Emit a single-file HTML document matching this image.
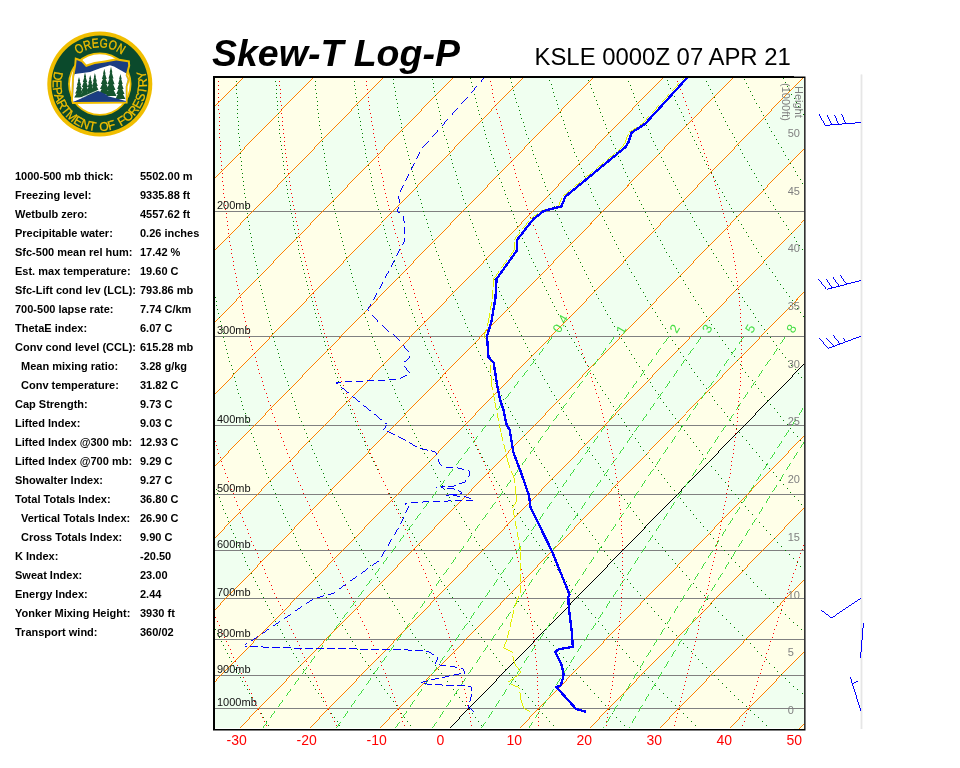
<!DOCTYPE html>
<html><head><meta charset="utf-8"><title>Skew-T Log-P KSLE</title>
<style>html,body{margin:0;padding:0;background:#fff}body{width:960px;height:768px;position:relative;overflow:hidden}</style></head>
<body>
<svg width="960" height="768" viewBox="0 0 960 768" style="position:absolute;left:0;top:0;will-change:transform" font-family="'Liberation Sans',Arial,sans-serif">
<defs><clipPath id="cc"><rect x="215" y="78" width="589" height="651"/></clipPath></defs>
<g clip-path="url(#cc)" shape-rendering="crispEdges">
<rect x="215" y="78" width="589" height="651" fill="#FFFFE8"/>
<polygon points="-531.7,729 -461.7,729 172.2,78 102.2,78" fill="#F0FFF0"/>
<polygon points="-391.7,729 -321.7,729 312.2,78 242.2,78" fill="#F0FFF0"/>
<polygon points="-251.7,729 -181.7,729 452.2,78 382.2,78" fill="#F0FFF0"/>
<polygon points="-111.7,729 -41.7,729 592.2,78 522.2,78" fill="#F0FFF0"/>
<polygon points="28.3,729 98.3,729 732.2,78 662.2,78" fill="#F0FFF0"/>
<polygon points="168.3,729 238.3,729 872.2,78 802.2,78" fill="#F0FFF0"/>
<polygon points="308.3,729 378.3,729 1012.2,78 942.2,78" fill="#F0FFF0"/>
<polygon points="448.3,729 518.3,729 1152.2,78 1082.2,78" fill="#F0FFF0"/>
<polygon points="588.3,729 658.3,729 1292.2,78 1222.2,78" fill="#F0FFF0"/>
<polygon points="728.3,729 798.3,729 1432.2,78 1362.2,78" fill="#F0FFF0"/>
<polygon points="868.3,729 938.3,729 1572.2,78 1502.2,78" fill="#F0FFF0"/>
<line x1="215" y1="211.5" x2="804" y2="211.5" stroke="#808080" stroke-width="1"/>
<line x1="215" y1="336.5" x2="804" y2="336.5" stroke="#808080" stroke-width="1"/>
<line x1="215" y1="425.5" x2="804" y2="425.5" stroke="#808080" stroke-width="1"/>
<line x1="215" y1="494.5" x2="804" y2="494.5" stroke="#808080" stroke-width="1"/>
<line x1="215" y1="550.5" x2="804" y2="550.5" stroke="#808080" stroke-width="1"/>
<line x1="215" y1="598.5" x2="804" y2="598.5" stroke="#808080" stroke-width="1"/>
<line x1="215" y1="639.5" x2="804" y2="639.5" stroke="#808080" stroke-width="1"/>
<line x1="215" y1="675.5" x2="804" y2="675.5" stroke="#808080" stroke-width="1"/>
<line x1="215" y1="708.5" x2="804" y2="708.5" stroke="#808080" stroke-width="1"/>
<path d="M-532.67 730L103.16 77h1L-531.67 730z" fill="#FF8000"/>
<path d="M-462.67 730L173.16 77h1L-461.67 730z" fill="#FF8000"/>
<path d="M-392.67 730L243.16 77h1L-391.67 730z" fill="#FF8000"/>
<path d="M-322.67 730L313.16 77h1L-321.67 730z" fill="#FF8000"/>
<path d="M-252.67 730L383.16 77h1L-251.67 730z" fill="#FF8000"/>
<path d="M-182.67 730L453.16 77h1L-181.67 730z" fill="#FF8000"/>
<path d="M-112.67 730L523.16 77h1L-111.67 730z" fill="#FF8000"/>
<path d="M-42.67 730L593.16 77h1L-41.67 730z" fill="#FF8000"/>
<path d="M27.33 730L663.16 77h1L28.33 730z" fill="#FF8000"/>
<path d="M97.33 730L733.16 77h1L98.33 730z" fill="#FF8000"/>
<path d="M167.33 730L803.16 77h1L168.33 730z" fill="#FF8000"/>
<path d="M237.33 730L873.16 77h1L238.33 730z" fill="#FF8000"/>
<path d="M307.33 730L943.16 77h1L308.33 730z" fill="#FF8000"/>
<path d="M377.33 730L1013.16 77h1L378.33 730z" fill="#FF8000"/>
<path d="M447.33 730L1083.16 77h1L448.33 730z" fill="#000"/>
<path d="M517.33 730L1153.16 77h1L518.33 730z" fill="#FF8000"/>
<path d="M587.33 730L1223.16 77h1L588.33 730z" fill="#FF8000"/>
<path d="M657.33 730L1293.16 77h1L658.33 730z" fill="#FF8000"/>
<path d="M727.33 730L1363.16 77h1L728.33 730z" fill="#FF8000"/>
<path d="M797.33 730L1433.16 77h1L798.33 730z" fill="#FF8000"/>
<path d="M867.33 730L1503.16 77h1L868.33 730z" fill="#FF8000"/>
<path d="M271 728.5h1M268 725.5h1M266 721.5h1M263 717.5h1M261 713.5h1M258 709.5h1M256 705.5h1M254 701.5h1M251 697.5h1M249 693.5h1M247 689.5h1M244 685.5h1M242 681.5h1M240 677.5h1M238 673.5h1M235 669.5h1M233 665.5h1M231 661.5h1M229 657.5h1M227 653.5h1M225 649.5h1M223 645.5h1M221 641.5h1M219 637.5h1M217 633.5h1M215 629.5h1" stroke="#008000" stroke-width="1" fill="none"/>
<path d="M342 728.5h1M339 725.5h1M337 721.5h1M334 717.5h1M331 713.5h1M328 709.5h1M326 705.5h1M323 701.5h1M321 697.5h1M318 693.5h1M315 689.5h1M313 685.5h1M310 681.5h1M308 677.5h1M305 673.5h1M303 669.5h1M300 665.5h1M298 661.5h1M296 657.5h1M293 653.5h1M291 649.5h1M289 645.5h1M286 641.5h1M284 637.5h1M282 633.5h1M280 629.5h1M277 625.5h1M275 621.5h1M273 617.5h1M271 613.5h1M269 609.5h1M267 605.5h1M265 601.5h1M263 597.5h1M261 593.5h1M259 589.5h1M257 585.5h1M255 581.5h1M253 577.5h1M251 573.5h1M249 569.5h1M247 565.5h1M245 561.5h1M244 557.5h1M242 553.5h1M240 549.5h1M238 545.5h1M236 541.5h1M235 537.5h1M233 533.5h1M231 529.5h1M230 525.5h1M228 521.5h1M227 517.5h1M225 513.5h1M223 509.5h1M222 505.5h1M220 501.5h1M219 497.5h1M217 493.5h1M216 489.5h1M214 485.5h1" stroke="#008000" stroke-width="1" fill="none"/>
<path d="M413 728.5h1M410 725.5h1M407 721.5h1M404 717.5h1M401 713.5h1M398 709.5h1M396 705.5h1M393 701.5h1M390 697.5h1M387 693.5h1M384 689.5h1M381 685.5h1M379 681.5h1M376 677.5h1M373 673.5h1M370 669.5h1M368 665.5h1M365 661.5h1M362 657.5h1M360 653.5h1M357 649.5h1M355 645.5h1M352 641.5h1M350 637.5h1M347 633.5h1M345 629.5h1M342 625.5h1M340 621.5h1M337 617.5h1M335 613.5h1M333 609.5h1M330 605.5h1M328 601.5h1M326 597.5h1M324 593.5h1M321 589.5h1M319 585.5h1M317 581.5h1M315 577.5h1M313 573.5h1M311 569.5h1M309 565.5h1M306 561.5h1M304 557.5h1M302 553.5h1M300 549.5h1M298 545.5h1M296 541.5h1M295 537.5h1M293 533.5h1M291 529.5h1M289 525.5h1M287 521.5h1M285 517.5h1M283 513.5h1M282 509.5h1M280 505.5h1M278 501.5h1M276 497.5h1M275 493.5h1M273 489.5h1M271 485.5h1M270 481.5h1M268 477.5h1M266 473.5h1M265 469.5h1M263 465.5h1M262 461.5h1M260 457.5h1M259 453.5h1M257 449.5h1M256 445.5h1M254 441.5h1M253 437.5h1M251 433.5h1M250 429.5h1M249 425.5h1M247 421.5h1M246 417.5h1M245 413.5h1M243 409.5h1M242 405.5h1M241 401.5h1M240 397.5h1M238 393.5h1M237 389.5h1M236 385.5h1M235 381.5h1M234 377.5h1M233 373.5h1M232 369.5h1M231 365.5h1M229 361.5h1M228 357.5h1M227 353.5h1M226 349.5h1M225 345.5h1M224 341.5h1M223 337.5h1M223 333.5h1M222 329.5h1M221 325.5h1M220 321.5h1M219 317.5h1M218 313.5h1M217 309.5h1M216 305.5h1M216 301.5h1M215 297.5h1M214 293.5h1" stroke="#008000" stroke-width="1" fill="none"/>
<path d="M485 728.5h1M481 725.5h1M478 721.5h1M475 717.5h1M472 713.5h1M469 709.5h1M465 705.5h1M462 701.5h1M459 697.5h1M456 693.5h1M453 689.5h1M450 685.5h1M447 681.5h1M444 677.5h1M441 673.5h1M438 669.5h1M435 665.5h1M432 661.5h1M429 657.5h1M426 653.5h1M424 649.5h1M421 645.5h1M418 641.5h1M415 637.5h1M412 633.5h1M410 629.5h1M407 625.5h1M404 621.5h1M402 617.5h1M399 613.5h1M397 609.5h1M394 605.5h1M392 601.5h1M389 597.5h1M387 593.5h1M384 589.5h1M382 585.5h1M379 581.5h1M377 577.5h1M375 573.5h1M372 569.5h1M370 565.5h1M368 561.5h1M365 557.5h1M363 553.5h1M361 549.5h1M359 545.5h1M356 541.5h1M354 537.5h1M352 533.5h1M350 529.5h1M348 525.5h1M346 521.5h1M344 517.5h1M342 513.5h1M340 509.5h1M338 505.5h1M336 501.5h1M334 497.5h1M332 493.5h1M330 489.5h1M328 485.5h1M326 481.5h1M324 477.5h1M323 473.5h1M321 469.5h1M319 465.5h1M317 461.5h1M316 457.5h1M314 453.5h1M312 449.5h1M311 445.5h1M309 441.5h1M307 437.5h1M306 433.5h1M304 429.5h1M303 425.5h1M301 421.5h1M299 417.5h1M298 413.5h1M296 409.5h1M295 405.5h1M294 401.5h1M292 397.5h1M291 393.5h1M289 389.5h1M288 385.5h1M287 381.5h1M285 377.5h1M284 373.5h1M283 369.5h1M281 365.5h1M280 361.5h1M279 357.5h1M278 353.5h1M277 349.5h1M275 345.5h1M274 341.5h1M273 337.5h1M272 333.5h1M271 329.5h1M270 325.5h1M269 321.5h1M268 317.5h1M267 313.5h1M266 309.5h1M265 305.5h1M264 301.5h1M263 297.5h1M262 293.5h1M261 289.5h1M260 285.5h1M259 281.5h1M258 277.5h1M257 273.5h1M257 269.5h1M256 265.5h1M255 261.5h1M254 257.5h1M253 253.5h1M253 249.5h1M252 245.5h1M251 241.5h1M251 237.5h1M250 233.5h1M249 229.5h1M249 225.5h1M248 221.5h1M247 217.5h1M247 213.5h1M246 209.5h1M246 205.5h1M245 201.5h1M245 197.5h1M244 193.5h1M244 189.5h1M243 185.5h1M243 181.5h1M242 177.5h1M242 173.5h1M241 169.5h1M241 165.5h1M241 161.5h1M240 157.5h1M240 153.5h1M240 149.5h1M239 145.5h1M239 141.5h1M239 137.5h1M238 133.5h1M238 129.5h1M238 125.5h1M238 121.5h1M237 117.5h1M237 113.5h1M237 109.5h1M237 105.5h1M237 101.5h1M237 97.5h1M236 93.5h1M236 89.5h1M236 85.5h1M236 81.5h1" stroke="#008000" stroke-width="1" fill="none"/>
<path d="M556 728.5h1M553 725.5h1M549 721.5h1M546 717.5h1M542 713.5h1M539 709.5h1M535 705.5h1M532 701.5h1M528 697.5h1M525 693.5h1M522 689.5h1M518 685.5h1M515 681.5h1M512 677.5h1M509 673.5h1M505 669.5h1M502 665.5h1M499 661.5h1M496 657.5h1M493 653.5h1M490 649.5h1M487 645.5h1M484 641.5h1M481 637.5h1M478 633.5h1M475 629.5h1M472 625.5h1M469 621.5h1M466 617.5h1M463 613.5h1M460 609.5h1M458 605.5h1M455 601.5h1M452 597.5h1M449 593.5h1M447 589.5h1M444 585.5h1M441 581.5h1M439 577.5h1M436 573.5h1M434 569.5h1M431 565.5h1M429 561.5h1M426 557.5h1M424 553.5h1M421 549.5h1M419 545.5h1M416 541.5h1M414 537.5h1M412 533.5h1M409 529.5h1M407 525.5h1M405 521.5h1M402 517.5h1M400 513.5h1M398 509.5h1M396 505.5h1M394 501.5h1M391 497.5h1M389 493.5h1M387 489.5h1M385 485.5h1M383 481.5h1M381 477.5h1M379 473.5h1M377 469.5h1M375 465.5h1M373 461.5h1M371 457.5h1M369 453.5h1M367 449.5h1M365 445.5h1M364 441.5h1M362 437.5h1M360 433.5h1M358 429.5h1M356 425.5h1M355 421.5h1M353 417.5h1M351 413.5h1M350 409.5h1M348 405.5h1M346 401.5h1M345 397.5h1M343 393.5h1M341 389.5h1M340 385.5h1M338 381.5h1M337 377.5h1M335 373.5h1M334 369.5h1M332 365.5h1M331 361.5h1M330 357.5h1M328 353.5h1M327 349.5h1M325 345.5h1M324 341.5h1M323 337.5h1M321 333.5h1M320 329.5h1M319 325.5h1M318 321.5h1M316 317.5h1M315 313.5h1M314 309.5h1M313 305.5h1M312 301.5h1M311 297.5h1M309 293.5h1M308 289.5h1M307 285.5h1M306 281.5h1M305 277.5h1M304 273.5h1M303 269.5h1M302 265.5h1M301 261.5h1M300 257.5h1M299 253.5h1M298 249.5h1M298 245.5h1M297 241.5h1M296 237.5h1M295 233.5h1M294 229.5h1M293 225.5h1M293 221.5h1M292 217.5h1M291 213.5h1M290 209.5h1M290 205.5h1M289 201.5h1M288 197.5h1M287 193.5h1M287 189.5h1M286 185.5h1M286 181.5h1M285 177.5h1M284 173.5h1M284 169.5h1M283 165.5h1M283 161.5h1M282 157.5h1M282 153.5h1M281 149.5h1M281 145.5h1M280 141.5h1M280 137.5h1M279 133.5h1M279 129.5h1M279 125.5h1M278 121.5h1M278 117.5h1M278 113.5h1M277 109.5h1M277 105.5h1M277 101.5h1M276 97.5h1M276 93.5h1M276 89.5h1M276 85.5h1M275 81.5h1" stroke="#008000" stroke-width="1" fill="none"/>
<path d="M627 728.5h1M624 725.5h1M620 721.5h1M616 717.5h1M612 713.5h1M609 709.5h1M605 705.5h1M601 701.5h1M598 697.5h1M594 693.5h1M590 689.5h1M587 685.5h1M583 681.5h1M580 677.5h1M576 673.5h1M573 669.5h1M569 665.5h1M566 661.5h1M563 657.5h1M559 653.5h1M556 649.5h1M553 645.5h1M549 641.5h1M546 637.5h1M543 633.5h1M540 629.5h1M537 625.5h1M534 621.5h1M530 617.5h1M527 613.5h1M524 609.5h1M521 605.5h1M518 601.5h1M515 597.5h1M512 593.5h1M509 589.5h1M507 585.5h1M504 581.5h1M501 577.5h1M498 573.5h1M495 569.5h1M492 565.5h1M490 561.5h1M487 557.5h1M484 553.5h1M482 549.5h1M479 545.5h1M476 541.5h1M474 537.5h1M471 533.5h1M469 529.5h1M466 525.5h1M464 521.5h1M461 517.5h1M459 513.5h1M456 509.5h1M454 505.5h1M451 501.5h1M449 497.5h1M447 493.5h1M444 489.5h1M442 485.5h1M440 481.5h1M437 477.5h1M435 473.5h1M433 469.5h1M431 465.5h1M429 461.5h1M427 457.5h1M424 453.5h1M422 449.5h1M420 445.5h1M418 441.5h1M416 437.5h1M414 433.5h1M412 429.5h1M410 425.5h1M408 421.5h1M406 417.5h1M404 413.5h1M403 409.5h1M401 405.5h1M399 401.5h1M397 397.5h1M395 393.5h1M394 389.5h1M392 385.5h1M390 381.5h1M388 377.5h1M387 373.5h1M385 369.5h1M383 365.5h1M382 361.5h1M380 357.5h1M379 353.5h1M377 349.5h1M375 345.5h1M374 341.5h1M372 337.5h1M371 333.5h1M369 329.5h1M368 325.5h1M367 321.5h1M365 317.5h1M364 313.5h1M362 309.5h1M361 305.5h1M360 301.5h1M358 297.5h1M357 293.5h1M356 289.5h1M355 285.5h1M353 281.5h1M352 277.5h1M351 273.5h1M350 269.5h1M349 265.5h1M347 261.5h1M346 257.5h1M345 253.5h1M344 249.5h1M343 245.5h1M342 241.5h1M341 237.5h1M340 233.5h1M339 229.5h1M338 225.5h1M337 221.5h1M336 217.5h1M335 213.5h1M334 209.5h1M333 205.5h1M333 201.5h1M332 197.5h1M331 193.5h1M330 189.5h1M329 185.5h1M329 181.5h1M328 177.5h1M327 173.5h1M326 169.5h1M326 165.5h1M325 161.5h1M324 157.5h1M324 153.5h1M323 149.5h1M322 145.5h1M322 141.5h1M321 137.5h1M321 133.5h1M320 129.5h1M319 125.5h1M319 121.5h1M318 117.5h1M318 113.5h1M317 109.5h1M317 105.5h1M317 101.5h1M316 97.5h1M316 93.5h1M315 89.5h1M315 85.5h1M315 81.5h1" stroke="#008000" stroke-width="1" fill="none"/>
<path d="M699 728.5h1M695 725.5h1M691 721.5h1M687 717.5h1M683 713.5h1M679 709.5h1M675 705.5h1M671 701.5h1M667 697.5h1M663 693.5h1M659 689.5h1M655 685.5h1M652 681.5h1M648 677.5h1M644 673.5h1M640 669.5h1M637 665.5h1M633 661.5h1M629 657.5h1M626 653.5h1M622 649.5h1M619 645.5h1M615 641.5h1M612 637.5h1M608 633.5h1M605 629.5h1M602 625.5h1M598 621.5h1M595 617.5h1M591 613.5h1M588 609.5h1M585 605.5h1M582 601.5h1M578 597.5h1M575 593.5h1M572 589.5h1M569 585.5h1M566 581.5h1M563 577.5h1M560 573.5h1M557 569.5h1M554 565.5h1M551 561.5h1M548 557.5h1M545 553.5h1M542 549.5h1M539 545.5h1M536 541.5h1M533 537.5h1M531 533.5h1M528 529.5h1M525 525.5h1M522 521.5h1M520 517.5h1M517 513.5h1M514 509.5h1M512 505.5h1M509 501.5h1M507 497.5h1M504 493.5h1M501 489.5h1M499 485.5h1M496 481.5h1M494 477.5h1M492 473.5h1M489 469.5h1M487 465.5h1M484 461.5h1M482 457.5h1M480 453.5h1M477 449.5h1M475 445.5h1M473 441.5h1M471 437.5h1M468 433.5h1M466 429.5h1M464 425.5h1M462 421.5h1M460 417.5h1M458 413.5h1M456 409.5h1M454 405.5h1M452 401.5h1M450 397.5h1M448 393.5h1M446 389.5h1M444 385.5h1M442 381.5h1M440 377.5h1M438 373.5h1M436 369.5h1M434 365.5h1M432 361.5h1M431 357.5h1M429 353.5h1M427 349.5h1M425 345.5h1M424 341.5h1M422 337.5h1M420 333.5h1M419 329.5h1M417 325.5h1M415 321.5h1M414 317.5h1M412 313.5h1M411 309.5h1M409 305.5h1M408 301.5h1M406 297.5h1M405 293.5h1M403 289.5h1M402 285.5h1M400 281.5h1M399 277.5h1M398 273.5h1M396 269.5h1M395 265.5h1M394 261.5h1M392 257.5h1M391 253.5h1M390 249.5h1M389 245.5h1M387 241.5h1M386 237.5h1M385 233.5h1M384 229.5h1M383 225.5h1M382 221.5h1M381 217.5h1M380 213.5h1M378 209.5h1M377 205.5h1M376 201.5h1M375 197.5h1M374 193.5h1M373 189.5h1M372 185.5h1M371 181.5h1M371 177.5h1M370 173.5h1M369 169.5h1M368 165.5h1M367 161.5h1M366 157.5h1M365 153.5h1M365 149.5h1M364 145.5h1M363 141.5h1M362 137.5h1M362 133.5h1M361 129.5h1M360 125.5h1M360 121.5h1M359 117.5h1M358 113.5h1M358 109.5h1M357 105.5h1M356 101.5h1M356 97.5h1M355 93.5h1M355 89.5h1M354 85.5h1M354 81.5h1" stroke="#008000" stroke-width="1" fill="none"/>
<path d="M770 728.5h1M766 725.5h1M762 721.5h1M758 717.5h1M754 714.5h1M750 710.5h1M746 706.5h1M742 702.5h1M738 699.5h1M734 695.5h1M730 691.5h1M726 687.5h1M722 683.5h1M718 679.5h1M714 675.5h1M710 671.5h1M706 667.5h1M702 663.5h1M698 659.5h1M695 655.5h1M691 651.5h1M687 647.5h1M683 643.5h1M679 639.5h1M676 635.5h1M672 631.5h1M668 627.5h1M665 623.5h1M661 619.5h1M658 615.5h1M654 611.5h1M651 607.5h1M647 603.5h1M644 599.5h1M640 595.5h1M637 591.5h1M633 587.5h1M630 583.5h1M627 579.5h1M623 575.5h1M620 571.5h1M617 567.5h1M614 563.5h1M610 559.5h1M607 555.5h1M604 551.5h1M601 547.5h1M598 543.5h1M595 539.5h1M592 535.5h1M589 531.5h1M586 527.5h1M583 523.5h1M580 519.5h1M577 515.5h1M574 511.5h1M571 507.5h1M568 503.5h1M566 499.5h1M563 495.5h1M560 491.5h1M557 487.5h1M555 483.5h1M552 479.5h1M549 475.5h1M547 471.5h1M544 467.5h1M541 463.5h1M539 459.5h1M536 455.5h1M534 451.5h1M531 447.5h1M529 443.5h1M526 439.5h1M524 435.5h1M522 431.5h1M519 427.5h1M517 423.5h1M515 419.5h1M512 415.5h1M510 411.5h1M508 407.5h1M505 403.5h1M503 399.5h1M501 395.5h1M499 391.5h1M497 387.5h1M495 383.5h1M493 379.5h1M490 375.5h1M488 371.5h1M486 367.5h1M484 363.5h1M482 359.5h1M480 355.5h1M478 351.5h1M476 347.5h1M475 343.5h1M473 339.5h1M471 335.5h1M469 331.5h1M467 327.5h1M465 323.5h1M464 319.5h1M462 315.5h1M460 311.5h1M458 307.5h1M457 303.5h1M455 299.5h1M453 295.5h1M452 291.5h1M450 287.5h1M448 283.5h1M447 279.5h1M445 275.5h1M444 271.5h1M442 267.5h1M441 263.5h1M439 259.5h1M438 255.5h1M436 251.5h1M435 247.5h1M434 243.5h1M432 239.5h1M431 235.5h1M430 231.5h1M428 227.5h1M427 223.5h1M426 219.5h1M424 215.5h1M423 211.5h1M422 207.5h1M421 203.5h1M420 199.5h1M418 195.5h1M417 191.5h1M416 187.5h1M415 183.5h1M414 179.5h1M413 175.5h1M412 171.5h1M411 167.5h1M410 163.5h1M409 159.5h1M408 155.5h1M407 151.5h1M406 147.5h1M405 143.5h1M404 139.5h1M403 135.5h1M402 131.5h1M401 127.5h1M401 123.5h1M400 119.5h1M399 115.5h1M398 111.5h1M397 107.5h1M397 103.5h1M396 99.5h1M395 95.5h1M395 91.5h1M394 87.5h1M393 83.5h1M393 79.5h1" stroke="#008000" stroke-width="1" fill="none"/>
<path d="M802 693.5h1M797 689.5h1M793 686.5h1M789 682.5h1M785 678.5h1M781 674.5h1M777 671.5h1M774 667.5h1M769 663.5h1M766 659.5h1M761 655.5h1M757 651.5h1M754 647.5h1M750 643.5h1M746 639.5h1M742 635.5h1M738 631.5h1M734 627.5h1M730 623.5h1M726 619.5h1M722 615.5h1M718 611.5h1M715 607.5h1M711 603.5h1M707 599.5h1M704 595.5h1M700 591.5h1M696 587.5h1M693 583.5h1M689 579.5h1M686 575.5h1M682 571.5h1M679 567.5h1M675 563.5h1M672 559.5h1M668 555.5h1M665 551.5h1M662 547.5h1M658 543.5h1M655 539.5h1M652 535.5h1M649 531.5h1M645 527.5h1M642 523.5h1M639 519.5h1M636 515.5h1M633 511.5h1M630 507.5h1M627 503.5h1M624 499.5h1M621 495.5h1M618 491.5h1M615 487.5h1M612 483.5h1M609 479.5h1M606 475.5h1M603 471.5h1M600 467.5h1M598 463.5h1M595 459.5h1M592 455.5h1M589 451.5h1M587 447.5h1M584 443.5h1M581 439.5h1M579 435.5h1M576 431.5h1M574 427.5h1M571 423.5h1M568 419.5h1M566 415.5h1M563 411.5h1M561 407.5h1M559 403.5h1M556 399.5h1M554 395.5h1M551 391.5h1M549 387.5h1M547 383.5h1M544 379.5h1M542 375.5h1M540 371.5h1M538 367.5h1M535 363.5h1M533 359.5h1M531 355.5h1M529 351.5h1M527 347.5h1M525 343.5h1M523 339.5h1M521 335.5h1M519 331.5h1M517 327.5h1M515 323.5h1M513 319.5h1M511 315.5h1M509 311.5h1M507 307.5h1M505 303.5h1M503 299.5h1M501 295.5h1M499 291.5h1M498 287.5h1M496 283.5h1M494 279.5h1M492 275.5h1M491 271.5h1M489 267.5h1M487 263.5h1M486 259.5h1M484 255.5h1M483 251.5h1M481 247.5h1M479 243.5h1M478 239.5h1M476 235.5h1M475 231.5h1M473 227.5h1M472 223.5h1M470 219.5h1M469 215.5h1M468 211.5h1M466 207.5h1M465 203.5h1M463 199.5h1M462 195.5h1M461 191.5h1M460 187.5h1M458 183.5h1M457 179.5h1M456 175.5h1M455 171.5h1M453 167.5h1M452 163.5h1M451 159.5h1M450 155.5h1M449 151.5h1M448 147.5h1M447 143.5h1M446 139.5h1M444 135.5h1M443 131.5h1M442 127.5h1M441 123.5h1M440 119.5h1M440 115.5h1M439 111.5h1M438 107.5h1M437 103.5h1M436 99.5h1M435 95.5h1M434 91.5h1M433 87.5h1M433 83.5h1M432 79.5h1" stroke="#008000" stroke-width="1" fill="none"/>
<path d="M801 629.5h1M797 625.5h1M793 622.5h1M789 618.5h1M785 614.5h1M781 610.5h1M777 606.5h1M773 602.5h1M769 598.5h1M765 594.5h1M761 590.5h1M757 586.5h1M753 582.5h1M750 578.5h1M746 574.5h1M742 570.5h1M739 566.5h1M735 562.5h1M731 558.5h1M728 554.5h1M724 550.5h1M721 546.5h1M717 542.5h1M713 538.5h1M710 534.5h1M707 530.5h1M703 526.5h1M700 522.5h1M696 518.5h1M693 514.5h1M690 510.5h1M686 506.5h1M683 502.5h1M680 498.5h1M677 494.5h1M674 490.5h1M670 486.5h1M667 482.5h1M664 478.5h1M661 474.5h1M658 470.5h1M655 466.5h1M652 462.5h1M649 458.5h1M646 454.5h1M643 450.5h1M640 446.5h1M638 442.5h1M635 438.5h1M632 434.5h1M629 430.5h1M626 426.5h1M624 422.5h1M621 418.5h1M618 414.5h1M615 410.5h1M613 406.5h1M610 402.5h1M608 398.5h1M605 394.5h1M602 390.5h1M600 386.5h1M597 382.5h1M595 378.5h1M593 374.5h1M590 370.5h1M588 366.5h1M585 362.5h1M583 358.5h1M581 354.5h1M578 350.5h1M576 346.5h1M574 342.5h1M571 338.5h1M569 334.5h1M567 330.5h1M565 326.5h1M563 322.5h1M561 318.5h1M558 314.5h1M556 310.5h1M554 306.5h1M552 302.5h1M550 298.5h1M548 294.5h1M546 290.5h1M544 286.5h1M542 282.5h1M540 278.5h1M539 274.5h1M537 270.5h1M535 266.5h1M533 262.5h1M531 258.5h1M529 254.5h1M528 250.5h1M526 246.5h1M524 242.5h1M522 238.5h1M521 234.5h1M519 230.5h1M517 226.5h1M516 222.5h1M514 218.5h1M513 214.5h1M511 210.5h1M510 206.5h1M508 202.5h1M507 198.5h1M505 194.5h1M504 190.5h1M502 186.5h1M501 182.5h1M499 178.5h1M498 174.5h1M497 170.5h1M495 166.5h1M494 162.5h1M493 158.5h1M491 154.5h1M490 150.5h1M489 146.5h1M488 142.5h1M486 138.5h1M485 134.5h1M484 130.5h1M483 126.5h1M482 122.5h1M481 118.5h1M479 114.5h1M478 110.5h1M477 106.5h1M476 102.5h1M475 98.5h1M474 94.5h1M473 90.5h1M472 86.5h1M471 82.5h1M470 78.5h1" stroke="#008000" stroke-width="1" fill="none"/>
<path d="M804 570.5h1M800 566.5h1M797 562.5h1M793 558.5h1M789 554.5h1M785 550.5h1M781 546.5h1M777 542.5h1M774 538.5h1M770 534.5h1M766 530.5h1M763 526.5h1M759 522.5h1M756 518.5h1M752 514.5h1M748 510.5h1M745 506.5h1M741 502.5h1M738 498.5h1M735 494.5h1M731 490.5h1M728 486.5h1M725 482.5h1M721 478.5h1M718 474.5h1M715 470.5h1M711 466.5h1M708 462.5h1M705 458.5h1M702 454.5h1M699 450.5h1M696 446.5h1M693 442.5h1M690 438.5h1M687 434.5h1M684 430.5h1M681 426.5h1M678 422.5h1M675 418.5h1M672 414.5h1M669 410.5h1M666 406.5h1M663 402.5h1M660 398.5h1M658 394.5h1M655 390.5h1M652 386.5h1M650 382.5h1M647 378.5h1M644 374.5h1M642 370.5h1M639 366.5h1M636 362.5h1M634 358.5h1M631 354.5h1M629 350.5h1M626 346.5h1M624 342.5h1M621 338.5h1M619 334.5h1M617 330.5h1M614 326.5h1M612 322.5h1M610 318.5h1M607 314.5h1M605 310.5h1M603 306.5h1M601 302.5h1M598 298.5h1M596 294.5h1M594 290.5h1M592 286.5h1M590 282.5h1M588 278.5h1M586 274.5h1M584 270.5h1M582 266.5h1M580 262.5h1M578 258.5h1M576 254.5h1M574 250.5h1M572 246.5h1M570 242.5h1M568 238.5h1M566 234.5h1M564 230.5h1M562 226.5h1M561 222.5h1M559 218.5h1M557 214.5h1M555 210.5h1M554 206.5h1M552 202.5h1M550 198.5h1M549 194.5h1M547 190.5h1M545 186.5h1M544 182.5h1M542 178.5h1M541 174.5h1M539 170.5h1M538 166.5h1M536 162.5h1M535 158.5h1M533 154.5h1M532 150.5h1M531 146.5h1M529 142.5h1M528 138.5h1M526 134.5h1M525 130.5h1M524 126.5h1M523 122.5h1M521 118.5h1M520 114.5h1M519 110.5h1M518 106.5h1M516 102.5h1M515 98.5h1M514 94.5h1M513 90.5h1M512 86.5h1M511 82.5h1M510 78.5h1" stroke="#008000" stroke-width="1" fill="none"/>
<path d="M801 504.5h1M798 500.5h1M794 496.5h1M790 492.5h1M787 488.5h1M783 484.5h1M780 480.5h1M776 476.5h1M773 472.5h1M769 468.5h1M766 464.5h1M762 460.5h1M759 456.5h1M756 452.5h1M752 448.5h1M749 444.5h1M746 440.5h1M742 436.5h1M739 432.5h1M736 428.5h1M733 424.5h1M730 420.5h1M727 416.5h1M724 412.5h1M721 408.5h1M717 404.5h1M714 400.5h1M712 396.5h1M709 392.5h1M706 388.5h1M703 384.5h1M700 380.5h1M697 376.5h1M694 372.5h1M691 368.5h1M689 364.5h1M686 360.5h1M683 356.5h1M680 352.5h1M678 348.5h1M675 344.5h1M672 340.5h1M670 336.5h1M667 332.5h1M665 328.5h1M662 324.5h1M660 320.5h1M657 316.5h1M655 312.5h1M652 308.5h1M650 304.5h1M647 300.5h1M645 296.5h1M643 292.5h1M640 288.5h1M638 284.5h1M636 280.5h1M634 276.5h1M631 272.5h1M629 268.5h1M627 264.5h1M625 260.5h1M623 256.5h1M620 252.5h1M618 248.5h1M616 244.5h1M614 240.5h1M612 236.5h1M610 232.5h1M608 228.5h1M606 224.5h1M604 220.5h1M602 216.5h1M600 212.5h1M599 208.5h1M597 204.5h1M595 200.5h1M593 196.5h1M591 192.5h1M590 188.5h1M588 184.5h1M586 180.5h1M584 176.5h1M583 172.5h1M581 168.5h1M579 164.5h1M578 160.5h1M576 156.5h1M574 152.5h1M573 148.5h1M571 144.5h1M570 140.5h1M568 136.5h1M567 132.5h1M565 128.5h1M564 124.5h1M563 120.5h1M561 116.5h1M560 112.5h1M558 108.5h1M557 104.5h1M556 100.5h1M554 96.5h1M553 92.5h1M552 88.5h1M551 84.5h1M549 80.5h1" stroke="#008000" stroke-width="1" fill="none"/>
<path d="M804 444.5h1M800 440.5h1M797 436.5h1M793 432.5h1M790 428.5h1M787 424.5h1M783 420.5h1M780 416.5h1M777 412.5h1M774 408.5h1M770 404.5h1M767 400.5h1M764 396.5h1M761 392.5h1M758 388.5h1M755 384.5h1M752 380.5h1M748 376.5h1M745 372.5h1M742 368.5h1M740 364.5h1M737 360.5h1M734 356.5h1M731 352.5h1M728 348.5h1M725 344.5h1M722 340.5h1M719 336.5h1M717 332.5h1M714 328.5h1M711 324.5h1M709 320.5h1M706 316.5h1M703 312.5h1M701 308.5h1M698 304.5h1M695 300.5h1M693 296.5h1M690 292.5h1M688 288.5h1M685 284.5h1M683 280.5h1M680 276.5h1M678 272.5h1M676 268.5h1M673 264.5h1M671 260.5h1M669 256.5h1M666 252.5h1M664 248.5h1M662 244.5h1M660 240.5h1M657 236.5h1M655 232.5h1M653 228.5h1M651 224.5h1M649 220.5h1M647 216.5h1M645 212.5h1M643 208.5h1M641 204.5h1M639 200.5h1M637 196.5h1M635 192.5h1M633 188.5h1M631 184.5h1M629 180.5h1M627 176.5h1M625 172.5h1M623 168.5h1M622 164.5h1M620 160.5h1M618 156.5h1M616 152.5h1M615 148.5h1M613 144.5h1M611 140.5h1M610 136.5h1M608 132.5h1M606 128.5h1M605 124.5h1M603 120.5h1M602 116.5h1M600 112.5h1M599 108.5h1M597 104.5h1M596 100.5h1M594 96.5h1M593 92.5h1M591 88.5h1M590 84.5h1M588 80.5h1" stroke="#008000" stroke-width="1" fill="none"/>
<path d="M804 381.5h1M801 377.5h1M798 373.5h1M795 369.5h1M791 365.5h1M788 361.5h1M785 357.5h1M782 353.5h1M779 349.5h1M776 345.5h1M773 341.5h1M770 337.5h1M767 333.5h1M764 329.5h1M761 325.5h1M758 321.5h1M755 317.5h1M753 313.5h1M750 309.5h1M747 305.5h1M744 301.5h1M742 297.5h1M739 293.5h1M736 289.5h1M733 285.5h1M731 281.5h1M728 277.5h1M726 273.5h1M723 269.5h1M721 265.5h1M718 261.5h1M716 257.5h1M713 253.5h1M711 249.5h1M708 245.5h1M706 241.5h1M703 237.5h1M701 233.5h1M699 229.5h1M696 225.5h1M694 221.5h1M692 217.5h1M690 213.5h1M687 209.5h1M685 205.5h1M683 201.5h1M681 197.5h1M679 193.5h1M677 189.5h1M675 185.5h1M673 181.5h1M671 177.5h1M669 173.5h1M667 169.5h1M665 165.5h1M663 161.5h1M661 157.5h1M659 153.5h1M657 149.5h1M655 145.5h1M653 141.5h1M651 137.5h1M650 133.5h1M648 129.5h1M646 125.5h1M644 121.5h1M643 117.5h1M641 113.5h1M639 109.5h1M638 105.5h1M636 101.5h1M634 97.5h1M633 93.5h1M631 89.5h1M630 85.5h1M628 81.5h1" stroke="#008000" stroke-width="1" fill="none"/>
<path d="M803 316.5h1M800 312.5h1M797 308.5h1M794 304.5h1M792 300.5h1M789 296.5h1M786 292.5h1M783 288.5h1M780 284.5h1M777 280.5h1M775 276.5h1M772 272.5h1M769 268.5h1M766 264.5h1M764 260.5h1M761 256.5h1M758 252.5h1M756 248.5h1M753 244.5h1M751 240.5h1M748 236.5h1M746 232.5h1M743 228.5h1M741 224.5h1M738 220.5h1M736 216.5h1M733 212.5h1M731 208.5h1M729 204.5h1M726 200.5h1M724 196.5h1M722 192.5h1M719 188.5h1M717 184.5h1M715 180.5h1M713 176.5h1M711 172.5h1M708 168.5h1M706 164.5h1M704 160.5h1M702 156.5h1M700 152.5h1M698 148.5h1M696 144.5h1M694 140.5h1M692 136.5h1M690 132.5h1M688 128.5h1M686 124.5h1M684 120.5h1M683 116.5h1M681 112.5h1M679 108.5h1M677 104.5h1M675 100.5h1M674 96.5h1M672 92.5h1M670 88.5h1M668 84.5h1M667 80.5h1" stroke="#008000" stroke-width="1" fill="none"/>
<path d="M802 249.5h1M799 245.5h1M796 241.5h1M794 237.5h1M791 233.5h1M788 229.5h1M786 225.5h1M783 221.5h1M780 217.5h1M778 213.5h1M775 209.5h1M773 205.5h1M770 201.5h1M768 197.5h1M765 193.5h1M763 189.5h1M761 185.5h1M758 181.5h1M756 177.5h1M754 173.5h1M751 169.5h1M749 165.5h1M747 161.5h1M744 157.5h1M742 153.5h1M740 149.5h1M738 145.5h1M736 141.5h1M734 137.5h1M732 133.5h1M729 129.5h1M727 125.5h1M725 121.5h1M723 117.5h1M721 113.5h1M719 109.5h1M717 105.5h1M715 101.5h1M714 97.5h1M712 93.5h1M710 89.5h1M708 85.5h1M706 81.5h1" stroke="#008000" stroke-width="1" fill="none"/>
<path d="M802 183.5h1M800 179.5h1M797 175.5h1M795 171.5h1M793 167.5h1M790 163.5h1M788 159.5h1M785 155.5h1M783 151.5h1M781 147.5h1M778 143.5h1M776 139.5h1M774 135.5h1M771 131.5h1M769 127.5h1M767 123.5h1M765 119.5h1M763 115.5h1M761 111.5h1M759 107.5h1M756 103.5h1M754 99.5h1M752 95.5h1M750 91.5h1M748 87.5h1M746 83.5h1M744 79.5h1" stroke="#008000" stroke-width="1" fill="none"/>
<path d="M803 114.5h1M800 110.5h1M798 106.5h1M796 102.5h1M794 98.5h1M791 94.5h1M789 90.5h1M787 86.5h1M785 82.5h1M783 78.5h1" stroke="#008000" stroke-width="1" fill="none"/>
<path d="M552.11 336.51L548.72 341h1L553.11 336.51zM548.72 341L546.83 343.51h1L549.72 341zM543.82 347.51L541.19 351h1L544.82 347.51zM541.19 351L538.54 354.51h1L542.19 351zM535.53 358.51L533.66 361h1L536.53 358.51zM533.66 361L530.27 365.51h1L534.66 361zM527.26 369.51L526.14 371h1L528.26 369.51zM526.14 371L522 376.51h1L527.14 371zM518.99 380.51L518.63 381h1L519.99 380.51zM518.63 381L513.74 387.51h1L519.63 381zM510.73 391.51L505.48 398.51h1L511.73 391.51zM502.48 402.51L497.24 409.51h1L503.48 402.51zM494.24 413.51L489 420.51h1L495.24 413.51zM486.01 424.51L481.16 431h1L487.01 424.51zM481.16 431L480.77 431.51h1L482.16 431zM477.78 435.51L473.68 441h1L478.78 435.51zM473.68 441L472.55 442.51h1L474.68 441zM469.57 446.51L466.22 451h1L470.57 446.51zM466.22 451L464.34 453.51h1L467.22 451zM461.36 457.51L458.76 461h1L462.36 457.51zM458.76 461L456.14 464.51h1L459.76 461zM453.16 468.51L451.31 471h1L454.16 468.51zM451.31 471L447.95 475.51h1L452.31 471zM444.97 479.51L443.86 481h1L445.97 479.51zM443.86 481L439.76 486.51h1L444.86 481zM436.79 490.51L436.43 491h1L437.79 490.51zM436.43 491L431.59 497.51h1L437.43 491zM428.61 501.51L423.42 508.51h1L429.61 501.51zM420.45 512.51L415.26 519.51h1L421.45 512.51zM412.3 523.51L407.11 530.51h1L413.3 523.51zM404.15 534.51L399.35 541h1L405.15 534.51zM399.35 541L398.97 541.51h1L400.35 541zM396.01 545.51L391.95 551h1L397.01 545.51zM391.95 551L390.84 552.51h1L392.95 551zM387.88 556.51L384.57 561h1L388.88 556.51zM384.57 561L382.71 563.51h1L385.57 561zM379.76 567.51L377.19 571h1L380.76 567.51zM377.19 571L374.6 574.51h1L378.19 571zM371.65 578.51L369.82 581h1L372.65 578.51zM369.82 581L366.49 585.51h1L370.82 581zM363.55 589.51L362.45 591h1L364.55 589.51zM362.45 591L358.4 596.51h1L363.45 591zM355.46 600.51L355.1 601h1L356.46 600.51zM355.1 601L350.31 607.51h1L356.1 601zM347.37 611.51L342.23 618.51h1L348.37 611.51zM339.3 622.51L334.16 629.51h1L340.3 622.51zM331.23 633.51L326.11 640.51h1L332.23 633.51zM323.18 644.51L318.43 651h1L324.18 644.51zM318.43 651L318.06 651.51h1L319.43 651zM315.13 655.51L311.12 661h1L316.13 655.51zM311.12 661L310.02 662.51h1L312.12 661zM307.09 666.51L303.82 671h1L308.09 666.51zM303.82 671L301.98 673.51h1L304.82 671zM299.07 677.51L296.52 681h1L300.07 677.51zM296.52 681L293.96 684.51h1L297.52 681zM291.05 688.51L289.24 691h1L292.05 688.51zM289.24 691L285.95 695.51h1L290.24 691zM283.04 699.51L281.96 701h1L284.04 699.51zM281.96 701L277.95 706.51h1L282.96 701zM275.04 710.51L274.69 711h1L276.04 710.51zM274.69 711L269.96 717.51h1L275.69 711zM267.05 721.51L261.97 728.51h1L268.05 721.51z" fill="#44DD44"/>
<path d="M614.18 336.51L610.91 341h1L615.18 336.51zM610.91 341L609.09 343.51h1L611.91 341zM606.19 347.51L603.65 351h1L607.19 347.51zM603.65 351L601.1 354.51h1L604.65 351zM598.2 358.51L596.4 361h1L599.2 358.51zM596.4 361L593.13 365.51h1L597.4 361zM590.23 369.51L589.15 371h1L591.23 369.51zM589.15 371L585.16 376.51h1L590.15 371zM582.27 380.51L581.92 381h1L583.27 380.51zM581.92 381L577.21 387.51h1L582.92 381zM574.31 391.51L569.26 398.51h1L575.31 391.51zM566.37 402.51L561.32 409.51h1L567.37 402.51zM558.44 413.51L553.39 420.51h1L559.44 413.51zM550.51 424.51L545.84 431h1L551.51 424.51zM545.84 431L545.47 431.51h1L546.84 431zM542.6 435.51L538.65 441h1L543.6 435.51zM538.65 441L537.56 442.51h1L539.65 441zM534.69 446.51L531.47 451h1L535.69 446.51zM531.47 451L529.67 453.51h1L532.47 451zM526.8 457.51L524.29 461h1L527.8 457.51zM524.29 461L521.78 464.51h1L525.29 461zM518.91 468.51L517.13 471h1L519.91 468.51zM517.13 471L513.9 475.51h1L518.13 471zM511.03 479.51L509.97 481h1L512.03 479.51zM509.97 481L506.03 486.51h1L510.97 481zM503.17 490.51L502.82 491h1L504.17 490.51zM502.82 491L498.17 497.51h1L503.82 491zM495.31 501.51L490.32 508.51h1L496.31 501.51zM487.47 512.51L482.48 519.51h1L488.47 512.51zM479.63 523.51L474.65 530.51h1L480.63 523.51zM471.8 534.51L467.19 541h1L472.8 534.51zM467.19 541L466.83 541.51h1L468.19 541zM463.99 545.51L460.09 551h1L464.99 545.51zM460.09 551L459.02 552.51h1L461.09 551zM456.18 556.51L453 561h1L457.18 556.51zM453 561L451.22 563.51h1L454 561zM448.39 567.51L445.92 571h1L449.39 567.51zM445.92 571L443.43 574.51h1L446.92 571zM440.6 578.51L438.84 581h1L441.6 578.51zM438.84 581L435.65 585.51h1L439.84 581zM432.83 589.51L431.78 591h1L433.83 589.51zM431.78 591L427.89 596.51h1L432.78 591zM425.06 600.51L424.72 601h1L426.06 600.51zM424.72 601L420.13 607.51h1L425.72 601zM417.31 611.51L412.38 618.51h1L418.31 611.51zM409.57 622.51L404.65 629.51h1L410.57 622.51zM401.84 633.51L396.92 640.51h1L402.84 633.51zM394.12 644.51L389.57 651h1L395.12 644.51zM389.57 651L389.21 651.51h1L390.57 651zM386.41 655.51L382.56 661h1L387.41 655.51zM382.56 661L381.5 662.51h1L383.56 661zM378.71 666.51L375.57 671h1L379.71 666.51zM375.57 671L373.81 673.51h1L376.57 671zM371.02 677.51L368.58 681h1L372.02 677.51zM368.58 681L366.13 684.51h1L369.58 681zM363.34 688.51L361.6 691h1L364.34 688.51zM361.6 691L358.46 695.51h1L362.6 691zM355.67 699.51L354.64 701h1L356.67 699.51zM354.64 701L350.8 706.51h1L355.64 701zM348.02 710.51L347.68 711h1L349.02 710.51zM347.68 711L343.15 717.51h1L348.68 711zM340.37 721.51L335.51 728.51h1L341.37 721.51z" fill="#44DD44"/>
<path d="M668.47 336.51L665.25 341h1L669.47 336.51zM665.25 341L663.46 343.51h1L666.25 341zM660.59 347.51L658.1 351h1L661.59 347.51zM658.1 351L655.59 354.51h1L659.1 351zM652.73 358.51L650.95 361h1L653.73 358.51zM650.95 361L647.73 365.51h1L651.95 361zM644.87 369.51L643.81 371h1L645.87 369.51zM643.81 371L639.88 376.51h1L644.81 371zM637.03 380.51L636.68 381h1L638.03 380.51zM636.68 381L632.04 387.51h1L637.68 381zM629.2 391.51L624.22 398.51h1L630.2 391.51zM621.37 402.51L616.4 409.51h1L622.37 402.51zM613.56 413.51L608.6 420.51h1L614.56 413.51zM605.76 424.51L601.16 431h1L606.76 424.51zM601.16 431L600.8 431.51h1L602.16 431zM597.97 435.51L594.09 441h1L598.97 435.51zM594.09 441L593.02 442.51h1L595.09 441zM590.19 446.51L587.02 451h1L591.19 446.51zM587.02 451L585.24 453.51h1L588.02 451zM582.42 457.51L579.96 461h1L583.42 457.51zM579.96 461L577.48 464.51h1L580.96 461zM574.66 468.51L572.91 471h1L575.66 468.51zM572.91 471L569.73 475.51h1L573.91 471zM566.92 479.51L565.87 481h1L567.92 479.51zM565.87 481L561.99 486.51h1L566.87 481zM559.18 490.51L558.84 491h1L560.18 490.51zM558.84 491L554.26 497.51h1L559.84 491zM551.45 501.51L546.54 508.51h1L552.45 501.51zM543.74 512.51L538.84 519.51h1L544.74 512.51zM536.04 523.51L531.14 530.51h1L537.04 523.51zM528.35 534.51L523.82 541h1L529.35 534.51zM523.82 541L523.46 541.51h1L524.82 541zM520.67 545.51L516.84 551h1L521.67 545.51zM516.84 551L515.79 552.51h1L517.84 551zM513 556.51L509.87 561h1L514 556.51zM509.87 561L508.12 563.51h1L510.87 561zM505.34 567.51L502.92 571h1L506.34 567.51zM502.92 571L500.47 574.51h1L503.92 571zM497.7 578.51L495.97 581h1L498.7 578.51zM495.97 581L492.84 585.51h1L496.97 581zM490.06 589.51L489.03 591h1L491.06 589.51zM489.03 591L485.21 596.51h1L490.03 591zM482.44 600.51L482.1 601h1L483.44 600.51zM482.1 601L477.6 607.51h1L483.1 601zM474.83 611.51L469.99 618.51h1L475.83 611.51zM467.23 622.51L462.4 629.51h1L468.23 622.51zM459.64 633.51L454.82 640.51h1L460.64 633.51zM452.07 644.51L447.61 651h1L453.07 644.51zM447.61 651L447.25 651.51h1L448.61 651zM444.51 655.51L440.74 661h1L445.51 655.51zM440.74 661L439.7 662.51h1L441.74 661zM436.96 666.51L433.88 671h1L437.96 666.51zM433.88 671L432.16 673.51h1L434.88 671zM429.42 677.51L427.03 681h1L430.42 677.51zM427.03 681L424.63 684.51h1L428.03 681zM421.89 688.51L420.19 691h1L422.89 688.51zM420.19 691L417.11 695.51h1L421.19 691zM414.38 699.51L413.36 701h1L415.38 699.51zM413.36 701L409.6 706.51h1L414.36 701zM406.88 710.51L406.54 711h1L407.88 710.51zM406.54 711L402.11 717.51h1L407.54 711zM399.39 721.51L394.63 728.51h1L400.39 721.51z" fill="#44DD44"/>
<path d="M701.07 336.51L697.9 341h1L702.07 336.51zM697.9 341L696.12 343.51h1L698.9 341zM693.3 347.51L690.84 351h1L694.3 347.51zM690.84 351L688.36 354.51h1L691.84 351zM685.55 358.51L683.79 361h1L686.55 358.51zM683.79 361L680.62 365.51h1L684.79 361zM677.8 369.51L676.75 371h1L678.8 369.51zM676.75 371L672.88 376.51h1L677.75 371zM670.07 380.51L669.73 381h1L671.07 380.51zM669.73 381L665.15 387.51h1L670.73 381zM662.35 391.51L657.44 398.51h1L663.35 391.51zM654.64 402.51L649.73 409.51h1L655.64 402.51zM646.94 413.51L642.04 420.51h1L647.94 413.51zM639.25 424.51L634.72 431h1L640.25 424.51zM634.72 431L634.36 431.51h1L635.72 431zM631.57 435.51L627.75 441h1L632.57 435.51zM627.75 441L626.69 442.51h1L628.75 441zM623.91 446.51L620.78 451h1L624.91 446.51zM620.78 451L619.04 453.51h1L621.78 451zM616.25 457.51L613.83 461h1L617.25 457.51zM613.83 461L611.39 464.51h1L614.83 461zM608.61 468.51L606.89 471h1L609.61 468.51zM606.89 471L603.76 475.51h1L607.89 471zM600.98 479.51L599.95 481h1L601.98 479.51zM599.95 481L596.13 486.51h1L600.95 481zM593.36 490.51L593.03 491h1L594.36 490.51zM593.03 491L588.52 497.51h1L594.03 491zM585.76 501.51L580.92 508.51h1L586.76 501.51zM578.16 512.51L573.34 519.51h1L579.16 512.51zM570.58 523.51L565.76 530.51h1L571.58 523.51zM563.01 534.51L558.55 541h1L564.01 534.51zM558.55 541L558.2 541.51h1L559.55 541zM555.45 545.51L551.69 551h1L556.45 545.51zM551.69 551L550.65 552.51h1L552.69 551zM547.91 556.51L544.83 561h1L548.91 556.51zM544.83 561L543.11 563.51h1L545.83 561zM540.37 567.51L537.99 571h1L541.37 567.51zM537.99 571L535.58 574.51h1L538.99 571zM532.85 578.51L531.15 581h1L533.85 578.51zM531.15 581L528.07 585.51h1L532.15 581zM525.34 589.51L524.33 591h1L526.34 589.51zM524.33 591L520.57 596.51h1L525.33 591zM517.84 600.51L517.51 601h1L518.84 600.51zM517.51 601L513.08 607.51h1L518.51 601zM510.36 611.51L505.6 618.51h1L511.36 611.51zM502.89 622.51L498.14 629.51h1L503.89 622.51zM495.43 633.51L490.69 640.51h1L496.43 633.51zM487.98 644.51L483.6 651h1L488.98 644.51zM483.6 651L483.25 651.51h1L484.6 651zM480.55 655.51L476.85 661h1L481.55 655.51zM476.85 661L475.83 662.51h1L477.85 661zM473.13 666.51L470.11 671h1L474.13 666.51zM470.11 671L468.42 673.51h1L471.11 671zM465.72 677.51L463.38 681h1L466.72 677.51zM463.38 681L461.02 684.51h1L464.38 681zM458.33 688.51L456.66 691h1L459.33 688.51zM456.66 691L453.63 695.51h1L457.66 691zM450.95 699.51L449.95 701h1L451.95 699.51zM449.95 701L446.26 706.51h1L450.95 701zM443.58 710.51L443.25 711h1L444.58 710.51zM443.25 711L438.9 717.51h1L444.25 711zM436.23 721.51L431.55 728.51h1L437.23 721.51z" fill="#44DD44"/>
<path d="M743.55 336.51L740.45 341h1L744.55 336.51zM740.45 341L738.72 343.51h1L741.45 341zM735.96 347.51L733.55 351h1L736.96 347.51zM733.55 351L731.13 354.51h1L734.55 351zM728.37 358.51L726.66 361h1L729.37 358.51zM726.66 361L723.55 365.51h1L727.66 361zM720.8 369.51L719.78 371h1L721.8 369.51zM719.78 371L715.99 376.51h1L720.78 371zM713.24 380.51L712.91 381h1L714.24 380.51zM712.91 381L708.44 387.51h1L713.91 381zM705.7 391.51L700.9 398.51h1L706.7 391.51zM698.16 402.51L693.38 409.51h1L699.16 402.51zM690.64 413.51L685.86 420.51h1L691.64 413.51zM683.13 424.51L678.71 431h1L684.13 424.51zM678.71 431L678.36 431.51h1L679.71 431zM675.64 435.51L671.9 441h1L676.64 435.51zM671.9 441L670.87 442.51h1L672.9 441zM668.15 446.51L665.1 451h1L669.15 446.51zM665.1 451L663.39 453.51h1L666.1 451zM660.68 457.51L658.31 461h1L661.68 457.51zM658.31 461L655.93 464.51h1L659.31 461zM653.22 468.51L651.53 471h1L654.22 468.51zM651.53 471L648.48 475.51h1L652.53 471zM645.77 479.51L644.77 481h1L646.77 479.51zM644.77 481L641.04 486.51h1L645.77 481zM638.34 490.51L638.01 491h1L639.34 490.51zM638.01 491L633.61 497.51h1L639.01 491zM630.92 501.51L626.2 508.51h1L631.92 501.51zM623.51 512.51L618.8 519.51h1L624.51 512.51zM616.11 523.51L611.41 530.51h1L617.11 523.51zM608.73 534.51L604.38 541h1L609.73 534.51zM604.38 541L604.04 541.51h1L605.38 541zM601.36 545.51L597.69 551h1L602.36 545.51zM597.69 551L596.68 552.51h1L598.69 551zM594.01 556.51L591.01 561h1L595.01 556.51zM591.01 561L589.33 563.51h1L592.01 561zM586.67 567.51L584.34 571h1L587.67 567.51zM584.34 571L582 574.51h1L585.34 571zM579.34 578.51L577.68 581h1L580.34 578.51zM577.68 581L574.68 585.51h1L578.68 581zM572.02 589.51L571.03 591h1L573.02 589.51zM571.03 591L567.37 596.51h1L572.03 591zM564.72 600.51L564.4 601h1L565.72 600.51zM564.4 601L560.08 607.51h1L565.4 601zM557.43 611.51L552.8 618.51h1L558.43 611.51zM550.16 622.51L545.54 629.51h1L551.16 622.51zM542.9 633.51L538.28 640.51h1L543.9 633.51zM535.65 644.51L531.38 651h1L536.65 644.51zM531.38 651L531.05 651.51h1L532.38 651zM528.42 655.51L524.81 661h1L529.42 655.51zM524.81 661L523.82 662.51h1L525.81 661zM521.2 666.51L518.26 671h1L522.2 666.51zM518.26 671L516.61 673.51h1L519.26 671zM514 677.51L511.71 681h1L515 677.51zM511.71 681L509.42 684.51h1L512.71 681zM506.81 688.51L505.18 691h1L507.81 688.51zM505.18 691L502.24 695.51h1L506.18 691zM499.63 699.51L498.66 701h1L500.63 699.51zM498.66 701L495.07 706.51h1L499.66 701zM492.47 710.51L492.15 711h1L493.47 710.51zM492.15 711L487.92 717.51h1L493.15 711zM485.32 721.51L480.78 728.51h1L486.32 721.51z" fill="#44DD44"/>
<path d="M785.05 336.51L782.02 341h1L786.05 336.51zM782.02 341L780.32 343.51h1L783.02 341zM777.61 347.51L775.25 351h1L778.61 347.51zM775.25 351L772.88 354.51h1L776.25 351zM770.18 358.51L768.5 361h1L771.18 358.51zM768.5 361L765.46 365.51h1L769.5 361zM762.76 369.51L761.76 371h1L763.76 369.51zM761.76 371L758.04 376.51h1L762.76 371zM755.35 380.51L755.02 381h1L756.35 380.51zM755.02 381L750.65 387.51h1L756.02 381zM747.96 391.51L743.26 398.51h1L748.96 391.51zM740.58 402.51L735.89 409.51h1L741.58 402.51zM733.21 413.51L728.53 420.51h1L734.21 413.51zM725.86 424.51L721.53 431h1L726.86 424.51zM721.53 431L721.19 431.51h1L722.53 431zM718.52 435.51L714.86 441h1L719.52 435.51zM714.86 441L713.86 442.51h1L715.86 441zM711.19 446.51L708.21 451h1L712.19 446.51zM708.21 451L706.54 453.51h1L709.21 451zM703.88 457.51L701.56 461h1L704.88 457.51zM701.56 461L699.23 464.51h1L702.56 461zM696.58 468.51L694.93 471h1L697.58 468.51zM694.93 471L691.94 475.51h1L695.93 471zM689.3 479.51L688.31 481h1L690.3 479.51zM688.31 481L684.67 486.51h1L689.31 481zM682.02 490.51L681.7 491h1L683.02 490.51zM681.7 491L677.41 497.51h1L682.7 491zM674.77 501.51L670.16 508.51h1L675.77 501.51zM667.52 512.51L662.92 519.51h1L668.52 512.51zM660.29 523.51L655.7 530.51h1L661.29 523.51zM653.08 534.51L648.83 541h1L654.08 534.51zM648.83 541L648.49 541.51h1L649.83 541zM645.88 545.51L642.29 551h1L646.88 545.51zM642.29 551L641.3 552.51h1L643.29 551zM638.69 556.51L635.76 561h1L639.69 556.51zM635.76 561L634.13 563.51h1L636.76 561zM631.52 567.51L629.25 571h1L632.52 567.51zM629.25 571L626.96 574.51h1L630.25 571zM624.36 578.51L622.74 581h1L625.36 578.51zM622.74 581L619.82 585.51h1L623.74 581zM617.22 589.51L616.25 591h1L618.22 589.51zM616.25 591L612.68 596.51h1L617.25 591zM610.09 600.51L609.77 601h1L611.09 600.51zM609.77 601L605.56 607.51h1L610.77 601zM602.98 611.51L598.46 618.51h1L603.98 611.51zM595.88 622.51L591.37 629.51h1L596.88 622.51zM588.79 633.51L584.29 640.51h1L589.79 633.51zM581.73 644.51L577.56 651h1L582.73 644.51zM577.56 651L577.23 651.51h1L578.56 651zM574.67 655.51L571.16 661h1L575.67 655.51zM571.16 661L570.19 662.51h1L572.16 661zM567.63 666.51L564.77 671h1L568.63 666.51zM564.77 671L563.16 673.51h1L565.77 671zM560.61 677.51L558.39 681h1L561.61 677.51zM558.39 681L556.15 684.51h1L559.39 681zM553.6 688.51L552.02 691h1L554.6 688.51zM552.02 691L549.15 695.51h1L553.02 691zM546.61 699.51L545.67 701h1L547.61 699.51zM545.67 701L542.17 706.51h1L546.67 701zM539.63 710.51L539.33 711h1L540.63 710.51zM539.33 711L535.2 717.51h1L540.33 711zM532.67 721.51L528.25 728.51h1L533.67 721.51z" fill="#44DD44"/>
<path d="M1022.06 78L1020.01 81h1L1023.06 78zM1020.01 81L1017.29 85h1L1021.01 81zM1014.56 89L1013.2 91h1L1015.56 89zM1013.2 91L1009.8 96h1L1014.2 91zM1007.07 100L1006.39 101h1L1008.07 100zM1006.39 101L1002.32 107h1L1007.39 101zM999.6 111L994.85 118h1L1000.6 111zM992.14 122L987.39 129h1L993.14 122zM984.69 133L979.95 140h1L985.69 133zM977.25 144L972.52 151h1L978.25 144zM969.82 155L965.78 161h1L970.82 155zM965.78 161L965.11 162h1L966.78 161zM962.41 166L959.05 171h1L963.41 166zM959.05 171L957.7 173h1L960.05 171zM955.01 177L952.33 181h1L956.01 177zM952.33 181L950.31 184h1L953.33 181zM947.63 188L945.62 191h1L948.63 188zM945.62 191L942.94 195h1L946.62 191zM940.26 199L938.92 201h1L941.26 199zM938.92 201L935.57 206h1L939.92 201zM932.9 210L932.23 211h1L933.9 210zM932.23 211L928.22 217h1L933.23 211zM925.55 221L920.89 228h1L926.55 221zM918.22 232L913.56 239h1L919.22 232zM910.9 243L906.25 250h1L911.9 243zM903.6 254L898.96 261h1L904.6 254zM896.31 265L892.34 271h1L897.31 265zM892.34 271L891.68 272h1L893.34 271zM889.03 276L885.73 281h1L890.03 276zM885.73 281L884.41 283h1L886.73 281zM881.77 287L879.13 291h1L882.77 287zM879.13 291L877.15 294h1L880.13 291zM874.52 298L872.54 301h1L875.52 298zM872.54 301L869.91 305h1L873.54 301zM867.28 309L865.97 311h1L868.28 309zM865.97 311L862.69 316h1L866.97 311zM860.06 320L859.41 321h1L861.06 320zM859.41 321L855.48 327h1L860.41 321zM852.86 331L848.28 338h1L853.86 331zM845.66 342L841.1 349h1L846.66 342zM838.49 353L833.93 360h1L839.49 353zM831.32 364L826.77 371h1L832.32 364zM824.17 375L820.28 381h1L825.17 375zM820.28 381L819.63 382h1L821.28 381zM817.04 386L813.8 391h1L818.04 386zM813.8 391L812.51 393h1L814.8 391zM809.92 397L807.33 401h1L810.92 397zM807.33 401L805.4 404h1L808.33 401zM802.82 408L800.88 411h1L803.82 408zM800.88 411L798.3 415h1L801.88 411zM795.73 419L794.44 421h1L796.73 419zM794.44 421L791.22 426h1L795.44 421zM788.65 430L788.01 431h1L789.65 430zM788.01 431L784.16 437h1L789.01 431zM781.59 441L777.11 448h1L782.59 441zM774.55 452L770.07 459h1L775.55 452zM767.52 463L763.05 470h1L768.52 463zM760.51 474L756.05 481h1L761.51 474zM753.51 485L749.7 491h1L754.51 485zM749.7 491L749.06 492h1L750.7 491zM746.53 496L743.36 501h1L747.53 496zM743.36 501L742.09 503h1L744.36 501zM739.56 507L737.03 511h1L740.56 507zM737.03 511L735.13 514h1L738.03 511zM732.61 518L730.71 521h1L733.61 518zM730.71 521L728.19 525h1L731.71 521zM725.67 529L724.41 531h1L726.67 529zM724.41 531L721.27 536h1L725.41 531zM718.75 540L718.12 541h1L719.75 540zM718.12 541L714.36 547h1L719.12 541zM711.85 551L707.47 558h1L712.85 551zM704.96 562L700.59 569h1L705.96 562zM698.09 573L693.73 580h1L699.09 573zM691.24 584L686.88 591h1L692.24 584zM684.4 595L680.68 601h1L685.4 595zM680.68 601L680.06 602h1L681.68 601zM677.58 606L674.48 611h1L678.58 606zM674.48 611L673.25 613h1L675.48 611zM670.78 617L668.31 621h1L671.78 617zM668.31 621L666.46 624h1L669.31 621zM663.99 628L662.14 631h1L664.99 628zM662.14 631L659.68 635h1L663.14 631zM657.22 639L655.99 641h1L658.22 639zM655.99 641L652.92 646h1L656.99 641zM650.47 650L649.85 651h1L651.47 650zM649.85 651L646.18 657h1L650.85 651zM643.73 661L639.45 668h1L644.73 661zM637.01 672L632.74 679h1L638.01 672zM630.31 683L626.05 690h1L631.31 683zM623.63 694L619.38 701h1L624.63 694zM616.96 705L613.33 711h1L617.96 705zM613.33 711L612.73 712h1L614.33 711zM610.31 716L607.29 721h1L611.31 716zM607.29 721L606.09 723h1L608.29 721zM603.68 727L601.27 731h1L604.68 727z" fill="#44DD44"/>
<path d="M1041.8 78L1039.78 81h1L1042.8 78zM1039.78 81L1037.08 85h1L1040.78 81zM1034.38 89L1033.03 91h1L1035.38 89zM1033.03 91L1029.66 96h1L1034.03 91zM1026.97 100L1026.3 101h1L1027.97 100zM1026.3 101L1022.26 107h1L1027.3 101zM1019.57 111L1014.87 118h1L1020.57 111zM1012.19 122L1007.5 129h1L1013.19 122zM1004.82 133L1000.14 140h1L1005.82 133zM997.46 144L992.79 151h1L998.46 144zM990.12 155L986.12 161h1L991.12 155zM986.12 161L985.45 162h1L987.12 161zM982.79 166L979.46 171h1L983.79 166zM979.46 171L978.13 173h1L980.46 171zM975.47 177L972.81 181h1L976.47 177zM972.81 181L970.82 184h1L973.81 181zM968.17 188L966.18 191h1L969.17 188zM966.18 191L963.53 195h1L967.18 191zM960.88 199L959.55 201h1L961.88 199zM959.55 201L956.25 206h1L960.55 201zM953.6 210L952.94 211h1L954.6 210zM952.94 211L948.98 217h1L953.94 211zM946.34 221L941.73 228h1L947.34 221zM939.09 232L934.49 239h1L940.09 232zM931.86 243L927.26 250h1L932.86 243zM924.64 254L920.05 261h1L925.64 254zM917.43 265L913.51 271h1L918.43 265zM913.51 271L912.86 272h1L914.51 271zM910.24 276L906.98 281h1L911.24 276zM906.98 281L905.67 283h1L907.98 281zM903.07 287L900.46 291h1L904.07 287zM900.46 291L898.51 294h1L901.46 291zM895.9 298L893.95 301h1L896.9 298zM893.95 301L891.35 305h1L894.95 301zM888.76 309L887.46 311h1L889.76 309zM887.46 311L884.22 316h1L888.46 311zM881.62 320L880.97 321h1L882.62 320zM880.97 321L877.09 327h1L881.97 321zM874.5 331L869.98 338h1L875.5 331zM867.4 342L862.89 349h1L868.4 342zM860.31 353L855.81 360h1L861.31 353zM853.24 364L848.75 371h1L854.24 364zM846.18 375L842.34 381h1L847.18 375zM842.34 381L841.7 382h1L843.34 381zM839.14 386L835.94 391h1L840.14 386zM835.94 391L834.67 393h1L836.94 391zM832.11 397L829.56 401h1L833.11 397zM829.56 401L827.65 404h1L830.56 401zM825.1 408L823.19 411h1L826.1 408zM823.19 411L820.65 415h1L824.19 411zM818.1 419L816.83 421h1L819.1 419zM816.83 421L813.66 426h1L817.83 421zM811.12 430L810.49 431h1L812.12 430zM810.49 431L806.69 437h1L811.49 431zM804.16 441L799.73 448h1L805.16 441zM797.21 452L792.79 459h1L798.21 452zM790.27 463L785.87 470h1L791.27 463zM783.36 474L778.96 481h1L784.36 474zM776.45 485L772.7 491h1L777.45 485zM772.7 491L772.07 492h1L773.7 491zM769.57 496L766.44 501h1L770.57 496zM766.44 501L765.2 503h1L767.44 501zM762.7 507L760.2 511h1L763.7 507zM760.2 511L758.34 514h1L761.2 511zM755.85 518L753.98 521h1L756.85 518zM753.98 521L751.5 525h1L754.98 521zM749.01 529L747.77 531h1L750.01 529zM747.77 531L744.67 536h1L748.77 531zM742.19 540L741.57 541h1L743.19 540zM741.57 541L737.86 547h1L742.57 541zM735.39 551L731.07 558h1L736.39 551zM728.6 562L724.29 569h1L729.6 562zM721.83 573L717.54 580h1L722.83 573zM715.08 584L710.79 591h1L716.08 584zM708.35 595L704.68 601h1L709.35 595zM704.68 601L704.07 602h1L705.68 601zM701.63 606L698.58 611h1L702.63 606zM698.58 611L697.37 613h1L699.58 611zM694.93 617L692.5 621h1L695.93 617zM692.5 621L690.68 624h1L693.5 621zM688.25 628L686.43 631h1L689.25 628zM686.43 631L684.01 635h1L687.43 631zM681.58 639L680.37 641h1L682.58 639zM680.37 641L677.35 646h1L681.37 641zM674.94 650L674.33 651h1L675.94 650zM674.33 651L670.72 657h1L675.33 651zM668.31 661L664.1 668h1L669.31 661zM661.7 672L657.5 679h1L662.7 672zM655.11 683L650.92 690h1L656.11 683zM648.53 694L644.36 701h1L649.53 694zM641.98 705L638.41 711h1L642.98 705zM638.41 711L637.81 712h1L639.41 711zM635.44 716L632.47 721h1L636.44 716zM632.47 721L631.29 723h1L633.47 721zM628.92 727L626.55 731h1L629.92 727z" fill="#44DD44"/>
<path d="M268 728.5h1M266 725.5h1M264 721.5h1M262 717.5h1M260 713.5h1M258 709.5h1M256 705.5h1M254 701.5h1M252 697.5h1M251 693.5h1M249 689.5h1M247 685.5h1M245 681.5h1M243 677.5h1M241 673.5h1M239 669.5h1M237 665.5h1M235 661.5h1M233 657.5h1M231 653.5h1M230 649.5h1M228 645.5h1M226 641.5h1M224 637.5h1M222 633.5h1M220 629.5h1M219 625.5h1M217 621.5h1M215 617.5h1" stroke="#FF0000" stroke-width="1" fill="none"/>
<path d="M337 728.5h1M336 725.5h1M334 721.5h1M332 717.5h1M330 713.5h1M328 709.5h1M326 705.5h1M325 701.5h1M323 697.5h1M321 693.5h1M319 689.5h1M317 685.5h1M316 681.5h1M314 677.5h1M312 673.5h1M310 669.5h1M308 665.5h1M306 661.5h1M304 657.5h1M302 653.5h1M300 649.5h1M299 645.5h1M297 641.5h1M295 637.5h1M293 633.5h1M291 629.5h1M289 625.5h1M287 621.5h1M285 617.5h1M284 613.5h1M282 609.5h1M280 605.5h1M278 601.5h1M276 597.5h1M274 593.5h1M272 589.5h1M271 585.5h1M269 581.5h1M267 577.5h1M265 573.5h1M264 569.5h1M262 565.5h1M260 561.5h1M258 557.5h1M257 553.5h1M255 549.5h1M253 545.5h1M251 541.5h1M250 537.5h1M248 533.5h1M247 529.5h1M245 525.5h1M243 521.5h1M242 517.5h1M240 513.5h1M239 509.5h1M237 505.5h1M236 501.5h1M234 497.5h1M233 493.5h1M231 489.5h1M230 485.5h1M228 481.5h1M227 477.5h1M225 473.5h1M224 469.5h1M222 465.5h1M221 461.5h1M220 457.5h1M218 453.5h1M217 449.5h1M216 445.5h1M215 441.5h1" stroke="#FF0000" stroke-width="1" fill="none"/>
<path d="M405 728.5h1M404 725.5h1M402 721.5h1M401 717.5h1M400 713.5h1M398 709.5h1M397 705.5h1M395 701.5h1M394 697.5h1M392 693.5h1M391 689.5h1M389 685.5h1M388 681.5h1M386 677.5h1M385 673.5h1M383 669.5h1M381 665.5h1M380 661.5h1M378 657.5h1M376 653.5h1M375 649.5h1M373 645.5h1M371 641.5h1M369 637.5h1M368 633.5h1M366 629.5h1M364 625.5h1M362 621.5h1M360 617.5h1M358 613.5h1M357 609.5h1M355 605.5h1M353 601.5h1M351 597.5h1M349 593.5h1M347 589.5h1M345 585.5h1M343 581.5h1M342 577.5h1M340 573.5h1M338 569.5h1M336 565.5h1M334 561.5h1M332 557.5h1M330 553.5h1M328 549.5h1M327 545.5h1M325 541.5h1M323 537.5h1M321 533.5h1M319 529.5h1M317 525.5h1M316 521.5h1M314 517.5h1M312 513.5h1M310 509.5h1M309 505.5h1M307 501.5h1M305 497.5h1M303 493.5h1M302 489.5h1M300 485.5h1M298 481.5h1M297 477.5h1M295 473.5h1M293 469.5h1M292 465.5h1M290 461.5h1M289 457.5h1M287 453.5h1M286 449.5h1M284 445.5h1M283 441.5h1M281 437.5h1M280 433.5h1M278 429.5h1M277 425.5h1M275 421.5h1M274 417.5h1M272 413.5h1M271 409.5h1M270 405.5h1M268 401.5h1M267 397.5h1M266 393.5h1M264 389.5h1M263 385.5h1M262 381.5h1M261 377.5h1M259 373.5h1M258 369.5h1M257 365.5h1M256 361.5h1M255 357.5h1M254 353.5h1M252 349.5h1M251 345.5h1M250 341.5h1M249 337.5h1M248 333.5h1M247 329.5h1M246 325.5h1M245 321.5h1M244 317.5h1M243 313.5h1M242 309.5h1M242 305.5h1M241 301.5h1M240 297.5h1M239 293.5h1M238 289.5h1M237 285.5h1M236 281.5h1M236 277.5h1M235 273.5h1M234 269.5h1M233 265.5h1M233 261.5h1M232 257.5h1M231 253.5h1M231 249.5h1M230 245.5h1M229 241.5h1M229 237.5h1M228 233.5h1M228 229.5h1M227 225.5h1M227 221.5h1M226 217.5h1M226 213.5h1M225 209.5h1M225 205.5h1M224 201.5h1M224 197.5h1M223 193.5h1M223 189.5h1M223 185.5h1M222 181.5h1M222 177.5h1M222 173.5h1M221 169.5h1M221 165.5h1M221 161.5h1M220 157.5h1M220 153.5h1M220 149.5h1M220 145.5h1M220 141.5h1M219 137.5h1M219 133.5h1M219 129.5h1M219 125.5h1M219 121.5h1M219 117.5h1M219 113.5h1M218 109.5h1M218 105.5h1M218 101.5h1M218 97.5h1M218 93.5h1M218 89.5h1M218 85.5h1M218 81.5h1" stroke="#FF0000" stroke-width="1" fill="none"/>
<path d="M472 728.5h1M471 725.5h1M470 721.5h1M470 717.5h1M469 713.5h1M468 709.5h1M467 705.5h1M466 701.5h1M466 697.5h1M465 693.5h1M464 689.5h1M463 685.5h1M462 681.5h1M461 677.5h1M460 673.5h1M459 669.5h1M458 665.5h1M456 661.5h1M455 657.5h1M454 653.5h1M453 649.5h1M452 645.5h1M450 641.5h1M449 637.5h1M448 633.5h1M446 629.5h1M445 625.5h1M444 621.5h1M442 617.5h1M441 613.5h1M439 609.5h1M438 605.5h1M436 601.5h1M434 597.5h1M433 593.5h1M431 589.5h1M430 585.5h1M428 581.5h1M426 577.5h1M425 573.5h1M423 569.5h1M421 565.5h1M419 561.5h1M418 557.5h1M416 553.5h1M414 549.5h1M412 545.5h1M410 541.5h1M409 537.5h1M407 533.5h1M405 529.5h1M403 525.5h1M401 521.5h1M400 517.5h1M398 513.5h1M396 509.5h1M394 505.5h1M392 501.5h1M390 497.5h1M388 493.5h1M387 489.5h1M385 485.5h1M383 481.5h1M381 477.5h1M379 473.5h1M378 469.5h1M376 465.5h1M374 461.5h1M372 457.5h1M370 453.5h1M369 449.5h1M367 445.5h1M365 441.5h1M364 437.5h1M362 433.5h1M360 429.5h1M358 425.5h1M357 421.5h1M355 417.5h1M354 413.5h1M352 409.5h1M350 405.5h1M349 401.5h1M347 397.5h1M346 393.5h1M344 389.5h1M343 385.5h1M341 381.5h1M340 377.5h1M338 373.5h1M337 369.5h1M335 365.5h1M334 361.5h1M332 357.5h1M331 353.5h1M330 349.5h1M328 345.5h1M327 341.5h1M326 337.5h1M324 333.5h1M323 329.5h1M322 325.5h1M321 321.5h1M320 317.5h1M318 313.5h1M317 309.5h1M316 305.5h1M315 301.5h1M314 297.5h1M313 293.5h1M312 289.5h1M311 285.5h1M310 281.5h1M309 277.5h1M308 273.5h1M307 269.5h1M306 265.5h1M305 261.5h1M304 257.5h1M303 253.5h1M302 249.5h1M301 245.5h1M300 241.5h1M299 237.5h1M298 233.5h1M298 229.5h1M297 225.5h1M296 221.5h1M295 217.5h1M295 213.5h1M294 209.5h1M293 205.5h1M292 201.5h1M292 197.5h1M291 193.5h1M290 189.5h1M290 185.5h1M289 181.5h1M289 177.5h1M288 173.5h1M287 169.5h1M287 165.5h1M286 161.5h1M286 157.5h1M285 153.5h1M285 149.5h1M284 145.5h1M284 141.5h1M284 137.5h1M283 133.5h1M283 129.5h1M282 125.5h1M282 121.5h1M282 117.5h1M281 113.5h1M281 109.5h1M281 105.5h1M280 101.5h1M280 97.5h1M280 93.5h1M280 89.5h1M279 85.5h1M279 81.5h1" stroke="#FF0000" stroke-width="1" fill="none"/>
<path d="M538 728.5h1M538 725.5h1M538 721.5h1M538 717.5h1M538 713.5h1M538 709.5h1M538 705.5h1M538 701.5h1M538 697.5h1M538 693.5h1M537 689.5h1M537 685.5h1M537 681.5h1M537 677.5h1M537 673.5h1M536 669.5h1M536 665.5h1M536 661.5h1M535 657.5h1M535 653.5h1M535 649.5h1M534 645.5h1M534 641.5h1M533 637.5h1M533 633.5h1M532 629.5h1M532 625.5h1M531 621.5h1M530 617.5h1M530 613.5h1M529 609.5h1M528 605.5h1M528 601.5h1M527 597.5h1M526 593.5h1M525 589.5h1M524 585.5h1M524 581.5h1M523 577.5h1M522 573.5h1M521 569.5h1M520 565.5h1M518 561.5h1M517 557.5h1M516 553.5h1M515 549.5h1M514 545.5h1M513 541.5h1M511 537.5h1M510 533.5h1M509 529.5h1M507 525.5h1M506 521.5h1M505 517.5h1M503 513.5h1M502 509.5h1M500 505.5h1M499 501.5h1M497 497.5h1M496 493.5h1M494 489.5h1M493 485.5h1M491 481.5h1M489 477.5h1M488 473.5h1M486 469.5h1M485 465.5h1M483 461.5h1M481 457.5h1M479 453.5h1M478 449.5h1M476 445.5h1M474 441.5h1M473 437.5h1M471 433.5h1M469 429.5h1M467 425.5h1M465 421.5h1M464 417.5h1M462 413.5h1M460 409.5h1M458 405.5h1M457 401.5h1M455 397.5h1M453 393.5h1M451 389.5h1M450 385.5h1M448 381.5h1M446 377.5h1M445 373.5h1M443 369.5h1M441 365.5h1M439 361.5h1M438 357.5h1M436 353.5h1M434 349.5h1M433 345.5h1M431 341.5h1M430 337.5h1M428 333.5h1M427 329.5h1M425 325.5h1M424 321.5h1M422 317.5h1M421 313.5h1M419 309.5h1M418 305.5h1M417 301.5h1M415 297.5h1M414 293.5h1M413 289.5h1M411 285.5h1M410 281.5h1M409 277.5h1M407 273.5h1M406 269.5h1M405 265.5h1M404 261.5h1M402 257.5h1M401 253.5h1M400 249.5h1M399 245.5h1M398 241.5h1M397 237.5h1M395 233.5h1M394 229.5h1M393 225.5h1M392 221.5h1M391 217.5h1M390 213.5h1M389 209.5h1M388 205.5h1M387 201.5h1M386 197.5h1M385 193.5h1M384 189.5h1M383 185.5h1M383 181.5h1M382 177.5h1M381 173.5h1M380 169.5h1M379 165.5h1M378 161.5h1M378 157.5h1M377 153.5h1M376 149.5h1M375 145.5h1M375 141.5h1M374 137.5h1M373 133.5h1M373 129.5h1M372 125.5h1M371 121.5h1M371 117.5h1M370 113.5h1M369 109.5h1M369 105.5h1M368 101.5h1M368 97.5h1M367 93.5h1M367 89.5h1M366 85.5h1M366 81.5h1" stroke="#FF0000" stroke-width="1" fill="none"/>
<path d="M605 728.5h1M606 725.5h1M606 721.5h1M607 717.5h1M607 713.5h1M608 709.5h1M608 705.5h1M609 701.5h1M610 697.5h1M610 693.5h1M611 689.5h1M612 685.5h1M612 681.5h1M613 677.5h1M613 673.5h1M614 669.5h1M614 665.5h1M615 661.5h1M615 657.5h1M616 653.5h1M616 649.5h1M617 645.5h1M617 641.5h1M618 637.5h1M618 633.5h1M619 629.5h1M619 625.5h1M619 621.5h1M620 617.5h1M620 613.5h1M620 609.5h1M621 605.5h1M621 601.5h1M621 597.5h1M621 593.5h1M622 589.5h1M622 585.5h1M622 581.5h1M622 577.5h1M622 573.5h1M622 569.5h1M622 565.5h1M622 561.5h1M622 557.5h1M622 553.5h1M622 549.5h1M622 545.5h1M622 541.5h1M622 537.5h1M621 533.5h1M621 529.5h1M621 525.5h1M621 521.5h1M620 517.5h1M620 513.5h1M620 509.5h1M619 505.5h1M619 501.5h1M619 497.5h1M618 493.5h1M618 489.5h1M617 485.5h1M617 481.5h1M616 477.5h1M615 473.5h1M615 469.5h1M614 465.5h1M613 461.5h1M613 457.5h1M612 453.5h1M611 449.5h1M610 445.5h1M609 441.5h1M608 437.5h1M607 433.5h1M607 429.5h1M606 425.5h1M604 421.5h1M603 417.5h1M602 413.5h1M601 409.5h1M600 405.5h1M599 401.5h1M598 397.5h1M596 393.5h1M595 389.5h1M594 385.5h1M592 381.5h1M591 377.5h1M590 373.5h1M588 369.5h1M587 365.5h1M585 361.5h1M584 357.5h1M582 353.5h1M581 349.5h1M579 345.5h1M578 341.5h1M576 337.5h1M575 333.5h1M573 329.5h1M572 325.5h1M570 321.5h1M569 317.5h1M567 313.5h1M566 309.5h1M564 305.5h1M563 301.5h1M561 297.5h1M560 293.5h1M558 289.5h1M556 285.5h1M555 281.5h1M553 277.5h1M552 273.5h1M550 269.5h1M548 265.5h1M547 261.5h1M545 257.5h1M544 253.5h1M542 249.5h1M541 245.5h1M539 241.5h1M538 237.5h1M536 233.5h1M535 229.5h1M533 225.5h1M532 221.5h1M530 217.5h1M529 213.5h1M527 209.5h1M526 205.5h1M525 201.5h1M523 197.5h1M522 193.5h1M520 189.5h1M519 185.5h1M518 181.5h1M516 177.5h1M515 173.5h1M514 169.5h1M513 165.5h1M511 161.5h1M510 157.5h1M509 153.5h1M508 149.5h1M506 145.5h1M505 141.5h1M504 137.5h1M503 133.5h1M502 129.5h1M501 125.5h1M500 121.5h1M499 117.5h1M497 113.5h1M496 109.5h1M495 105.5h1M494 101.5h1M493 97.5h1M492 93.5h1M492 89.5h1M491 85.5h1M490 81.5h1" stroke="#FF0000" stroke-width="1" fill="none"/>
<path d="M673 728.5h1M674 725.5h1M675 721.5h1M676 717.5h1M677 713.5h1M678 709.5h1M679 705.5h1M680 701.5h1M681 697.5h1M682 693.5h1M683 689.5h1M684 685.5h1M685 681.5h1M686 677.5h1M687 673.5h1M688 669.5h1M689 665.5h1M690 661.5h1M691 657.5h1M692 653.5h1M693 649.5h1M694 645.5h1M695 641.5h1M696 637.5h1M697 633.5h1M698 629.5h1M698 625.5h1M699 621.5h1M700 617.5h1M701 613.5h1M702 609.5h1M703 605.5h1M704 601.5h1M705 597.5h1M706 593.5h1M707 589.5h1M708 585.5h1M709 581.5h1M709 577.5h1M710 573.5h1M711 569.5h1M712 565.5h1M713 561.5h1M714 557.5h1M715 553.5h1M716 549.5h1M716 545.5h1M717 541.5h1M718 537.5h1M719 533.5h1M720 529.5h1M720 525.5h1M721 521.5h1M722 517.5h1M723 513.5h1M723 509.5h1M724 505.5h1M725 501.5h1M726 497.5h1M726 493.5h1M727 489.5h1M728 485.5h1M728 481.5h1M729 477.5h1M730 473.5h1M730 469.5h1M731 465.5h1M731 461.5h1M732 457.5h1M733 453.5h1M733 449.5h1M734 445.5h1M734 441.5h1M735 437.5h1M735 433.5h1M736 429.5h1M736 425.5h1M737 421.5h1M737 417.5h1M737 413.5h1M738 409.5h1M738 405.5h1M738 401.5h1M739 397.5h1M739 393.5h1M739 389.5h1M740 385.5h1M740 381.5h1M740 377.5h1M740 373.5h1M740 369.5h1M741 365.5h1M741 361.5h1M741 357.5h1M741 353.5h1M741 349.5h1M741 345.5h1M741 341.5h1M741 337.5h1M741 333.5h1M741 329.5h1M741 325.5h1M740 321.5h1M740 317.5h1M740 313.5h1M740 309.5h1M739 305.5h1M739 301.5h1M739 297.5h1M738 293.5h1M738 289.5h1M737 285.5h1M737 281.5h1M736 277.5h1M736 273.5h1M735 269.5h1M735 265.5h1M734 261.5h1M733 257.5h1M733 253.5h1M732 249.5h1M731 245.5h1M730 241.5h1M729 237.5h1M728 233.5h1M727 229.5h1M727 225.5h1M726 221.5h1M724 217.5h1M723 213.5h1M722 209.5h1M721 205.5h1M720 201.5h1M719 197.5h1M718 193.5h1M716 189.5h1M715 185.5h1M714 181.5h1M713 177.5h1M711 173.5h1M710 169.5h1M708 165.5h1M707 161.5h1M706 157.5h1M704 153.5h1M703 149.5h1M701 145.5h1M700 141.5h1M698 137.5h1M697 133.5h1M695 129.5h1M694 125.5h1M692 121.5h1M691 117.5h1M689 113.5h1M688 109.5h1M686 105.5h1M685 101.5h1M683 97.5h1M682 93.5h1M680 89.5h1M679 85.5h1M677 81.5h1" stroke="#FF0000" stroke-width="1" fill="none"/>
<path d="M741 728.5h1M742 725.5h1M744 721.5h1M745 717.5h1M746 713.5h1M748 709.5h1M749 705.5h1M750 701.5h1M752 697.5h1M753 693.5h1M754 689.5h1M756 685.5h1M757 681.5h1M758 677.5h1M760 673.5h1M761 669.5h1M762 665.5h1M764 661.5h1M765 657.5h1M766 653.5h1M768 649.5h1M769 645.5h1M770 641.5h1M772 637.5h1M773 633.5h1M774 629.5h1M776 625.5h1M777 621.5h1M778 617.5h1M780 613.5h1M781 609.5h1M782 605.5h1M784 601.5h1M785 597.5h1M787 593.5h1M788 589.5h1M789 585.5h1M791 581.5h1M792 577.5h1M793 573.5h1M795 569.5h1M796 565.5h1M797 561.5h1M799 557.5h1M800 553.5h1M802 549.5h1M803 545.5h1M804 541.5h1" stroke="#FF0000" stroke-width="1" fill="none"/>
<path d="M529.8 710.8L523.7 707.7v1L529.8 711.8zM523.2 708.2L520.72 700.2h1L524.2 708.2zM520.5 699.5L519.29 691.5h1L521.5 699.5zM518.84 688.5L518.7 687.6h1L519.84 688.5zM519.2 687.1L511.2 683.81v1L519.2 688.1zM508.2 682.57L507.3 682.2v1L508.2 683.57zM507.3 682.2L513.7 678v1L507.3 683.2zM513.7 678L521 671.6v1L513.7 679zM520.5 672.1L514.26 664.1h1L521.5 672.1zM514.1 663.9L512.28 655.9h1L515.1 663.9zM511.6 652.9L511.4 652h1L512.6 652.9zM511.9 651.5L503.9 647.4v1L511.9 652.5zM503.2 647.8L506.26 639.8h1L504.2 647.8zM506.8 638.4L508.63 630.4h1L507.8 638.4zM509.32 627.4L511.15 619.4h1L510.32 627.4zM511.4 618.3L513.37 610.3h1L512.4 618.3zM514.11 607.3L515 603.7h1L515.11 607.3zM515 603.7L518.38 595.7h1L516 603.7zM519.6 592.8L520.25 584.8h1L520.6 592.8zM520.5 581.8L520.42 573.8h1L521.5 581.8zM520.39 570.8L520.31 562.8h1L521.39 570.8zM520.29 559.8L520.21 551.8h1L521.29 559.8zM520.2 551L518.71 543h1L521.2 551zM518.15 540L516.65 532h1L519.15 540zM516.09 529L514.6 521h1L517.09 529zM514.04 518L512.55 510h1L515.04 518zM512.1 507.6L516.5 500.2h1L513.1 507.6zM516.5 500.2L515.3 494h1L517.5 500.2zM515.3 494L514.6 486h1L516.3 494zM514.33 483L514 479.2h1L515.33 483zM514 479.2L510.92 471.2h1L515 479.2zM509.76 468.2L507.8 463.1h1L510.76 468.2zM507.8 463.1L505.88 455.1h1L508.8 463.1zM505.17 452.1L503.25 444.1h1L506.17 452.1zM502.53 441.1L500.62 433.1h1L503.53 441.1zM500.4 432.2L498.8 424.2h1L501.4 432.2zM498.2 421.2L496.6 413.2h1L499.2 421.2zM496 410.2L494.4 402.2h1L497 410.2zM494.2 401.2L492.73 393.2h1L495.2 401.2zM492.18 390.2L491 383.8h1L493.18 390.2zM491 383.8L490.5 375.8h1L492 383.8zM490.31 372.8L489.81 364.8h1L491.31 372.8zM489.62 361.8L489.5 359.9h1L490.62 361.8zM489.5 359.9L487.79 351.9h1L490.5 359.9zM487.14 348.9L485.43 340.9h1L488.14 348.9zM485 338.9L483.5 336.5h1L486 338.9zM483.5 336.5L485.81 328.5h1L484.5 336.5zM486.67 325.5L488 320.9h1L487.67 325.5zM488 320.9L489.39 312.9h1L489 320.9zM489.91 309.9L491.29 301.9h1L490.91 309.9zM491.81 298.9L491.9 298.4h1L492.81 298.9zM491.9 298.4L492.39 290.4h1L492.9 298.4zM492.58 287.4L493.07 279.4h1L493.58 287.4zM493.1 278.9L498.83 270.9h1L494.1 278.9zM500.97 267.9L506.7 259.9h1L501.97 267.9zM508.85 256.9L513.5 250.4h1L509.85 256.9zM513.5 250.4L513.5 242.4h1L514.5 250.4zM513.5 240L519.75 232h1L514.5 240zM522.09 229L528.34 221h1L523.09 229zM530.4 218.5L538.4 212.33v1L530.4 219.5zM540.9 210.4L548.9 208.33v1L540.9 211.4zM551.9 207.56L558.3 205.9v1L551.9 208.56zM557.8 206.4L561.19 198.4h1L558.8 206.4zM562.5 196L570.5 189.4v1L562.5 197zM573.5 186.93L581.5 180.33v1L573.5 187.93zM584.5 177.86L592.5 171.26v1L584.5 178.86zM595.5 168.78L603.5 162.19v1L595.5 169.78zM606.5 159.71L614.5 153.12v1L606.5 160.71zM617.5 150.64L622.4 146.6v1L617.5 151.64zM621.9 147.1L625 141.9h1L622.9 147.1zM625 141.9L627.72 133.9h1L626 141.9zM628.7 132L636.7 126.81v1L628.7 133zM639.7 124.87L642.2 123.25v1L639.7 125.87zM641.7 123.75L648.99 115.75h1L642.7 123.75zM651.72 112.75L659.01 104.75h1L652.72 112.75zM661.74 101.75L669.03 93.75h1L662.74 101.75zM671.76 90.75L679.05 82.75h1L672.76 90.75zM681.78 79.75L683.1 78.3h1L682.78 79.75zM683.1 78.3L685.3 76h1L684.1 78.3z" fill="#E2EE00"/>
<path d="M473.8 710.9L469.1 707.4v1L473.8 711.9zM468.6 707.9L467.72 705.1h1L469.6 707.9zM469.03 701.6L470.4 699.1h1L470.03 701.6zM470.4 699.1L470.63 694.1h1L471.4 699.1zM470.8 690.6L471 686.25h1L471.8 690.6zM471.5 685.75L468.35 685.6v1L471.5 686.75zM464.85 685.43L457.35 685.07v1L464.85 686.43zM453.85 684.91L451.6 684.8v1L453.85 685.91zM451.6 684.8L446.35 684.64v1L451.6 685.8zM442.85 684.53L435.35 684.3v1L442.85 685.53zM431.85 683.96L426.4 683.4v1L431.85 684.96zM426.4 683.4L424.35 682.91v1L426.4 684.4zM420.85 682.08L420.5 682v1L420.85 683.08zM420.5 682L427.65 680.26v1L420.5 683zM431.15 679.41L431.6 679.3v1L431.15 680.41zM431.6 679.3L438.65 677.8v1L431.6 680.3zM442.15 677.05L448 675.8v1L442.15 678.05zM448 675.8L449.65 675.46v1L448 676.8zM453.15 674.75L459.8 673.4v1L453.15 675.75zM459.8 673.4L460.65 673.32v1L459.8 674.4zM464.15 672.98L465 672.9v1L464.15 673.98zM464.5 673.4L462.8 669.3h1L465.5 673.4zM463.3 668.8L460.75 667.63v1L463.3 669.8zM457.25 666.86L451.6 666.1v1L457.25 667.86zM451.6 666.1L449.75 665.87v1L451.6 667.1zM446.25 665.43L440.4 664.7v1L446.25 666.43zM440.4 664.7L438.75 664.32v1L440.4 665.7zM435.25 663.51L435.2 663.5v1L435.25 664.51zM434.7 664L437.6 657.5h1L435.7 664zM438.1 657L437.15 656.38v1L438.1 658zM433.65 654.19L428.1 651.2v1L433.65 655.19zM428.1 651.2L426.15 650.93v1L428.1 652.2zM422.65 650.46L419.3 650v1L422.65 651.46zM419.3 650L415.15 649.83v1L419.3 651zM411.65 649.68L404.15 649.37v1L411.65 650.68zM400.65 649.23L400 649.2v1L400.65 650.23zM400 649.2L393.15 649.09v1L400 650.2zM389.65 649.03L382.15 648.91v1L389.65 650.03zM378.65 648.86L371.15 648.74v1L378.65 649.86zM367.65 648.68L360.15 648.56v1L367.65 649.68zM356.65 648.5L349.15 648.38v1L356.65 649.5zM345.65 648.33L338.15 648.21v1L345.65 649.33zM334.65 648.15L327.15 648.03v1L334.65 649.15zM323.65 647.97L316.15 647.85v1L323.65 648.97zM312.65 647.8L305.15 647.67v1L312.65 648.8zM301.65 647.62L294.15 647.5v1L301.65 648.62zM290.65 647.44L283.15 647.32v1L290.65 648.44zM279.65 647.26L278.75 647.25v1L279.65 648.26zM278.75 647.25L272.15 646.94v1L278.75 648.25zM268.65 646.77L261.15 646.42v1L268.65 647.77zM257.65 646.25L254.4 646.1v1L257.65 647.25zM254.4 646.1L250.15 645.84v1L254.4 647.1zM246.65 645.62L243.1 645.4v1L246.65 646.62zM243.1 645.4L247.05 643.13v1L243.1 646.4zM250.55 641.02L258.05 635.92v1L250.55 642.02zM261.55 633.54L269.05 628.44v1L261.55 634.54zM272.55 626.06L280.05 620.96v1L272.55 627.06zM283.55 618.58L291.05 613.48v1L283.55 619.58zM294.55 611.1L302.05 606.01v1L294.55 612.1zM305.55 603.63L312.5 598.9v1L305.55 604.63zM312.5 598.9L313.05 598.73v1L312.5 599.9zM316.55 597.62L324.05 595.24v1L316.55 598.62zM327.55 594.27L333.1 592.9v1L327.55 595.27zM333.1 592.9L335.05 591.49v1L333.1 593.9zM338.55 588.97L346.05 583.64v1L338.55 589.97zM349.55 581.15L357.05 575.82v1L349.55 582.15zM360.55 573.33L368.05 568v1L360.55 574.33zM371.55 565.51L379.05 560.18v1L371.55 566.51zM380.86 557.45L384.2 551.2h1L381.86 557.45zM384.2 551.2L384.94 549.95h1L385.2 551.2zM387 546.45L391.42 538.95h1L388 546.45zM393.48 535.45L397.9 527.95h1L394.48 535.45zM399.73 524.45L403.34 516.95h1L400.73 524.45zM405.02 513.45L408.63 505.95h1L406.02 513.45zM406.15 504.02L402.9 502.9v1L406.15 505.02zM402.9 502.9L407.15 502.6v1L402.9 503.9zM410.65 502.35L418.15 501.82v1L410.65 503.35zM421.65 501.58L428.4 501.1v1L421.65 502.58zM428.4 501.1L429.15 501.08v1L428.4 502.1zM432.65 500.97L440.15 500.74v1L432.65 501.97zM443.65 500.63L451.15 500.4v1L443.65 501.63zM454.65 500.29L457.6 500.2v1L454.65 501.29zM457.6 500.2L462.15 500.06v1L457.6 501.2zM465.65 499.95L473.15 499.73v1L465.65 500.95zM471.35 498.63L464.8 496v1L471.35 499.63zM464.8 496L463.85 495.94v1L464.8 497zM460.35 495.72L452.85 495.26v1L460.35 496.72zM449.35 495.04L443.9 494.7v1L449.35 496.04zM443.9 494.7L445.95 494.51v1L443.9 495.7zM449.45 494.18L456.95 493.47v1L449.45 495.18zM460.45 493.14L463 492.9v1L460.45 494.14zM463 492.9L458.05 490.05v1L463 493.9zM454.55 488.59L447.05 487.84v1L454.55 489.59zM443.55 487.57L436.05 487v1L443.55 488.57zM437.05 486.75L444.55 486.24v1L437.05 487.75zM448.05 486L453.9 485.6v1L448.05 487zM453.9 485.6L455.55 484.96v1L453.9 486.6zM459.05 483.62L464.8 481.4v1L459.05 484.62zM464.3 481.9L465.55 480.15h1L465.3 481.9zM468.04 476.65L469.5 474.6h1L469.04 476.65zM469.5 474.6L468.9 471h1L470.5 474.6zM469.4 470.5L467.55 470.01v1L469.4 471.5zM464.05 469.09L457.6 467.4v1L464.05 470.09zM457.6 467.4L456.55 467.36v1L457.6 468.4zM453.05 467.24L445.55 466.99v1L453.05 468.24zM441.74 466.45L438.8 462.8h1L442.74 466.45zM438.8 462.8L437.66 458.95h1L439.8 462.8zM436.62 455.45L436.1 453.7h1L437.62 455.45zM436.1 453.7L434.3 451.5h1L437.1 453.7zM434.8 451L431.25 450.36v1L434.8 452zM427.75 449.73L424.8 449.2v1L427.75 450.73zM424.8 449.2L420.25 447.7v1L424.8 450.2zM416.75 446.37L409.25 442.11v1L416.75 447.37zM405.75 440.11L400.1 436.9v1L405.75 441.11zM400.1 436.9L398.25 436.03v1L400.1 437.9zM394.75 434.39L387.25 430.86v1L394.75 435.39zM383.75 429.22L383.5 429.1v1L383.75 430.22zM383 429.6L386.9 424.7h1L384 429.6zM387.4 424.2L385.05 422.28v1L387.4 425.2zM381.55 419.42L374.05 413.3v1L381.55 420.42zM370.55 410.44L363.05 404.32v1L370.55 411.44zM359.55 401.46L352.05 395.33v1L359.55 402.46zM348.55 392.47L341.05 386.35v1L348.55 393.47zM337.55 383.49L335.6 381.9v1L337.55 384.49zM335.6 381.9L341.15 381.63v1L335.6 382.9zM344.65 381.46L352.15 381.1v1L344.65 382.46zM355.65 380.93L363.15 380.57v1L355.65 381.93zM366.65 380.4L368.8 380.3v1L366.65 381.4zM368.8 380.3L374.15 380.04v1L368.8 381.3zM377.65 379.88L385.15 379.52v1L377.65 380.88zM388.65 379.35L396.15 378.99v1L388.65 380.35zM399.65 378.16L407.15 374.56v1L399.65 379.16zM409.34 373.15L403.37 365.65h1L410.34 373.15zM404.05 361.9L408.9 357.8v1L404.05 362.9zM408.4 358.3L408.9 355.65h1L409.4 358.3zM408.19 352.15L402.05 344.65h1L409.19 352.15zM399.18 341.15L395.7 336.9h1L400.18 341.15zM396.2 336.4L392.95 334.09v1L396.2 337.4zM389.45 331.61L389.3 331.5v1L389.45 332.61zM389.3 331.5L381.95 324.77v1L389.3 332.5zM377.97 322.05L371.59 314.55h1L378.97 322.05zM368.62 311.05L367.3 309.5h1L369.62 311.05zM367.3 309.5L370.71 303.55h1L368.3 309.5zM372.68 300.05L376.87 292.55h1L373.68 300.05zM378.82 289.05L380.75 285.6h1L379.82 289.05zM380.75 285.6L382.85 281.55h1L381.75 285.6zM384.66 278.05L388.54 270.55h1L385.66 278.05zM390.35 267.05L394.24 259.55h1L391.35 267.05zM396.05 256.05L399.93 248.55h1L397.05 256.05zM401.74 245.05L404.2 240.3h1L402.74 245.05zM404.2 240.3L404.2 237.55h1L405.2 240.3zM404.2 234.05L404.2 226.55h1L405.2 234.05zM403.92 223.05L402.64 215.55h1L404.92 223.05zM399.85 212.68L396.9 210.75v1L399.85 213.68zM396.4 211.25L398.46 206.7h1L397.4 211.25zM399.3 203.2L398.02 195.7h1L400.3 203.2zM399.3 192.2L403.06 184.7h1L400.3 192.2zM404.81 181.2L408.57 173.7h1L405.81 181.2zM410.33 170.2L414.08 162.7h1L411.33 170.2zM415.84 159.2L419.6 151.7h1L416.84 159.2zM421.35 148.2L421.4 148.1h1L422.35 148.2zM421.9 147.6L426.6 142.9v1L421.9 148.6zM426.1 143.4L428.48 140.7h1L427.1 143.4zM431.56 137.2L438.17 129.7h1L432.56 137.2zM441.25 126.2L447.86 118.7h1L442.25 126.2zM450.95 115.2L457.56 107.7h1L451.95 115.2zM460.64 104.2L467.25 96.7h1L461.64 104.2zM470.33 93.2L476.94 85.7h1L471.33 93.2zM480.02 82.2L483.9 77.8h1L481.02 82.2zM483.9 77.8L485.5 76h1L484.9 77.8z" fill="#0000FF"/>
<polyline points="585.9,711.7 576.1,709 556.4,687.1 561,685.3 563.7,674.7 561.5,664.7 555.2,651.7 559.2,649.2 572.8,646.8 571.9,632.8 570.6,621.9 568.8,607.3 568.3,597.3 569.5,594.2 567.7,590 551.6,550.4 530.6,507.6 528.9,495.3 520.7,471.7 513.3,452 509.6,429.7 506.6,424.7 503.5,410.2 500.2,400 497.5,386.8 493.6,362.9 488.5,356.9 487,336.5 491.5,320.9 495.4,298.4 496.6,278.9 517,250.4 517,240 533.4,219 543.9,210.9 561.3,206.4 565.5,196.5 625.4,147.1 628.5,141.9 631.7,132.5 645.2,123.8 686.6,78.3 688.8,76" fill="none" stroke="#0000FF" stroke-width="2.35" stroke-linejoin="round"/>
</g>
<text x="560.3" y="323.6" font-size="13" fill="#44DD44" text-anchor="middle" transform="rotate(-60 560.3 323.6)" dy="4.6">0.4</text>
<text x="621.1" y="329.5" font-size="13" fill="#44DD44" text-anchor="middle" transform="rotate(-60 621.1 329.5)" dy="4.6">1</text>
<text x="674.6" y="328.6" font-size="13" fill="#44DD44" text-anchor="middle" transform="rotate(-60 674.6 328.6)" dy="4.6">2</text>
<text x="707" y="328.6" font-size="13" fill="#44DD44" text-anchor="middle" transform="rotate(-60 707 328.6)" dy="4.6">3</text>
<text x="750" y="328.6" font-size="13" fill="#44DD44" text-anchor="middle" transform="rotate(-60 750 328.6)" dy="4.6">5</text>
<text x="791.3" y="328.6" font-size="13" fill="#44DD44" text-anchor="middle" transform="rotate(-60 791.3 328.6)" dy="4.6">8</text>
<path d="M213 76H794V76.6H805.5V730.6H213zM215 78V729H804.2V78z" fill="#000" fill-rule="evenodd"/>
<rect x="215" y="728" width="579" height="1" fill="#fff"/>
<text x="217" y="209" font-size="11" fill="#111">200mb</text>
<text x="217" y="334" font-size="11" fill="#111">300mb</text>
<text x="217" y="423" font-size="11" fill="#111">400mb</text>
<text x="217" y="492" font-size="11" fill="#111">500mb</text>
<text x="217" y="548" font-size="11" fill="#111">600mb</text>
<text x="217" y="596" font-size="11" fill="#111">700mb</text>
<text x="217" y="637" font-size="11" fill="#111">800mb</text>
<text x="217" y="673" font-size="11" fill="#111">900mb</text>
<text x="217" y="706" font-size="11" fill="#111">1000mb</text>
<text x="787.7" y="714" font-size="11" fill="#808080">0</text>
<text x="787.7" y="656.3" font-size="11" fill="#808080">5</text>
<text x="787.7" y="598.6" font-size="11" fill="#808080">10</text>
<text x="787.7" y="540.8" font-size="11" fill="#808080">15</text>
<text x="787.7" y="483.1" font-size="11" fill="#808080">20</text>
<text x="787.7" y="425.4" font-size="11" fill="#808080">25</text>
<text x="787.7" y="367.7" font-size="11" fill="#808080">30</text>
<text x="787.7" y="310" font-size="11" fill="#808080">35</text>
<text x="787.7" y="252.2" font-size="11" fill="#808080">40</text>
<text x="787.7" y="194.5" font-size="11" fill="#808080">45</text>
<text x="787.7" y="136.8" font-size="11" fill="#808080">50</text>
<text font-size="11" fill="#808080" transform="translate(795 86) rotate(90)">Height</text>
<text font-size="11" fill="#808080" transform="translate(782.2 83) rotate(90)">(1000ft)</text>
<text x="226.5" y="745" font-size="14" fill="#FF0000">-30</text>
<text x="296.5" y="745" font-size="14" fill="#FF0000">-20</text>
<text x="366.5" y="745" font-size="14" fill="#FF0000">-10</text>
<text x="436.5" y="745" font-size="14" fill="#FF0000">0</text>
<text x="506.5" y="745" font-size="14" fill="#FF0000">10</text>
<text x="576.5" y="745" font-size="14" fill="#FF0000">20</text>
<text x="646.5" y="745" font-size="14" fill="#FF0000">30</text>
<text x="716.5" y="745" font-size="14" fill="#FF0000">40</text>
<text x="786.5" y="745" font-size="14" fill="#FF0000">50</text>
<rect x="860" y="74.5" width="3" height="654.5" fill="#F5F5F5"/><rect x="861" y="74.5" width="1" height="654.5" fill="#E6E6E6"/>
<g shape-rendering="crispEdges">
<path d="M861 122L825 124.9v1L861 123z" fill="#0000FF"/>
<path d="M824.5 125.4L818.8 114.2h1L825.5 125.4z" fill="#0000FF"/>
<path d="M831.3 124.9L826.8 115h1L832.3 124.9z" fill="#0000FF"/>
<path d="M838.25 124.2L833.9 115h1L839.25 124.2z" fill="#0000FF"/>
<path d="M845.3 123.5L841 114.2h1L846.3 123.5z" fill="#0000FF"/>
<path d="M860.9 280L826.6 288.9v1L860.9 281z" fill="#0000FF"/>
<path d="M826.1 289.4L817.9 279.2h1L827.1 289.4z" fill="#0000FF"/>
<path d="M831.5 287.8L825.75 279.2h1L832.5 287.8z" fill="#0000FF"/>
<path d="M838.5 285.9L832.6 277.3h1L839.5 285.9z" fill="#0000FF"/>
<path d="M845.6 283.6L839.8 275h1L846.6 283.6z" fill="#0000FF"/>
<path d="M860.9 335.75L828.1 347.9v1L860.9 336.75z" fill="#0000FF"/>
<path d="M827.6 348.4L819 338.3h1L828.6 348.4z" fill="#0000FF"/>
<path d="M833.1 346.1L826.1 338.3h1L834.1 346.1z" fill="#0000FF"/>
<path d="M839.3 343.75L832.6 335.2h1L840.3 343.75z" fill="#0000FF"/>
<path d="M845.1 341.4L842.5 337.5h1L846.1 341.4z" fill="#0000FF"/>
<path d="M860.9 597.6L831.6 617.5v1L860.9 598.6z" fill="#0000FF"/>
<path d="M831.6 617.5L821.1 609.7v1L831.6 618.5z" fill="#0000FF"/>
<path d="M862.9 623.3L860 657.7h1L863.9 623.3z" fill="#0000FF"/>
<path d="M860.4 711.1L849.8 677h1L861.4 711.1z" fill="#0000FF"/>
<path d="M852.7 682.9L857.6 681v1L852.7 683.9z" fill="#0000FF"/>
</g>
<text x="212" y="66" font-size="37.5" font-weight="bold" font-style="italic" fill="#000">Skew-T Log-P</text>
<text x="534.5" y="64.9" font-size="23.9" fill="#000">KSLE 0000Z 07 APR 21</text>
<g font-size="11" font-weight="bold" fill="#000">
<text x="15" y="179.7">1000-500 mb thick:</text><text x="140" y="179.7">5502.00 m</text>
<text x="15" y="198.7">Freezing level:</text><text x="140" y="198.7">9335.88 ft</text>
<text x="15" y="217.7">Wetbulb zero:</text><text x="140" y="217.7">4557.62 ft</text>
<text x="15" y="236.7">Precipitable water:</text><text x="140" y="236.7">0.26 inches</text>
<text x="15" y="255.7">Sfc-500 mean rel hum:</text><text x="140" y="255.7">17.42 %</text>
<text x="15" y="274.7">Est. max temperature:</text><text x="140" y="274.7">19.60 C</text>
<text x="15" y="293.7">Sfc-Lift cond lev (LCL):</text><text x="140" y="293.7">793.86 mb</text>
<text x="15" y="312.7">700-500 lapse rate:</text><text x="140" y="312.7">7.74 C/km</text>
<text x="15" y="331.7">ThetaE index:</text><text x="140" y="331.7">6.07 C</text>
<text x="15" y="350.7">Conv cond level (CCL):</text><text x="140" y="350.7">615.28 mb</text>
<text x="21" y="369.7">Mean mixing ratio:</text><text x="140" y="369.7">3.28 g/kg</text>
<text x="21" y="388.7">Conv temperature:</text><text x="140" y="388.7">31.82 C</text>
<text x="15" y="407.7">Cap Strength:</text><text x="140" y="407.7">9.73 C</text>
<text x="15" y="426.7">Lifted Index:</text><text x="140" y="426.7">9.03 C</text>
<text x="15" y="445.7">Lifted Index @300 mb:</text><text x="140" y="445.7">12.93 C</text>
<text x="15" y="464.7">Lifted Index @700 mb:</text><text x="140" y="464.7">9.29 C</text>
<text x="15" y="483.7">Showalter Index:</text><text x="140" y="483.7">9.27 C</text>
<text x="15" y="502.7">Total Totals Index:</text><text x="140" y="502.7">36.80 C</text>
<text x="21" y="521.7">Vertical Totals Index:</text><text x="140" y="521.7">26.90 C</text>
<text x="21" y="540.7">Cross Totals Index:</text><text x="140" y="540.7">9.90 C</text>
<text x="15" y="559.7">K Index:</text><text x="140" y="559.7">-20.50</text>
<text x="15" y="578.7">Sweat Index:</text><text x="140" y="578.7">23.00</text>
<text x="15" y="597.7">Energy Index:</text><text x="140" y="597.7">2.44</text>
<text x="15" y="616.7">Yonker Mixing Height:</text><text x="140" y="616.7">3930 ft</text>
<text x="15" y="635.7">Transport wind:</text><text x="140" y="635.7">360/02</text>
</g>
<g id="logo">
<circle cx="99.8" cy="84.1" r="52.5" fill="#F0BE00"/>
<circle cx="99.8" cy="84.1" r="48.5" fill="#0B4A2C"/>
<circle cx="99.8" cy="84.1" r="31.7" fill="#F0BE00"/>
<circle cx="99.8" cy="84.1" r="29.9" fill="#fff"/>
<path id="lt" d="M78.03 54.68A36.6 36.6 0 0 1 121.57 54.68" fill="none"/>
<path id="lb" d="M54.62 71.15A47.0 47.0 0 1 0 144.98 71.15" fill="none"/>
<text font-size="13" fill="#F0BE00" stroke="#F0BE00" stroke-width="0.35"><textPath href="#lt" startOffset="0" textLength="46.6" lengthAdjust="spacingAndGlyphs">OREGON</textPath></text>
<text font-size="12.6" fill="#F0BE00" stroke="#F0BE00" stroke-width="0.3" word-spacing="1.5"><textPath href="#lb" startOffset="0" textLength="173.9" lengthAdjust="spacingAndGlyphs">DEPARTMENT OF FORESTRY</textPath></text>
<polygon points="74.9,57.2 82.4,60.0 86.4,64.6 94.4,62.0 104.8,60.4 116.2,58.3 129.8,60.4 130.2,65.8 127.6,75.2 129.8,79.4 127.6,86.7 127.6,103.6 72.2,103.9 71.0,100.2 72.2,76.2 74.2,65.8" fill="#F0BE00"/>
<clipPath id="oc"><polygon points="76.6,60.0 81.5,62.0 86.0,67.0 94.8,64.1 105.0,62.5 116.3,60.4 127.9,62.2 128.2,65.6 125.7,75.2 127.7,79.4 125.8,86.5 125.8,101.7 73.6,102.0 72.9,100.0 74.1,76.4 76.0,66.0"/></clipPath>
<g clip-path="url(#oc)">
<rect x="70" y="55" width="62" height="52" fill="#1B3D82"/>
<polygon points="70.0,75.0 76.7,73.8 90.0,72.0 100.0,68.2 110.0,65.2 114.0,66.5 125.6,73.1 132.0,76.0 132.0,107.0 70.0,107.0" fill="#fff"/>
<polygon points="79.0,77.0 80.2,81.1 79.7,81.1 81.2,85.2 80.3,85.2 82.1,89.3 80.8,89.3 82.9,93.4 81.4,93.4 83.8,97.5 74.2,97.5 76.6,93.4 75.1,93.4 77.2,89.3 75.9,89.3 77.7,85.2 76.8,85.2 78.3,81.1 77.8,81.1" fill="#15552F"/>
<polygon points="85.0,72.4 86.2,77.2 85.7,77.2 87.2,82.0 86.3,82.0 88.1,86.9 86.8,86.9 88.9,91.7 87.4,91.7 89.8,96.5 80.2,96.5 82.6,91.7 81.1,91.7 83.2,86.9 81.9,86.9 83.7,82.0 82.8,82.0 84.3,77.2 83.8,77.2" fill="#15552F"/>
<polygon points="90.2,75.0 91.3,79.1 90.8,79.1 92.2,83.2 91.4,83.2 93.0,87.3 91.9,87.3 93.7,91.4 92.3,91.4 94.5,95.5 86.0,95.5 88.1,91.4 86.7,91.4 88.5,87.3 87.4,87.3 89.0,83.2 88.2,83.2 89.6,79.1 89.1,79.1" fill="#15552F"/>
<polygon points="94.9,72.9 96.0,77.2 95.6,77.2 97.0,81.5 96.1,81.5 97.8,85.9 96.6,85.9 98.6,90.2 97.1,90.2 99.4,94.5 90.4,94.5 92.7,90.2 91.2,90.2 93.2,85.9 92.0,85.9 93.7,81.5 92.8,81.5 94.2,77.2 93.8,77.2" fill="#15552F"/>
<polygon points="104.3,68.8 105.6,73.8 105.1,73.8 106.7,78.9 105.7,78.9 107.7,83.9 106.3,83.9 108.6,89.0 106.9,89.0 109.5,94.0 99.0,94.0 101.7,89.0 100.0,89.0 102.3,83.9 100.9,83.9 102.9,78.9 101.9,78.9 103.5,73.8 103.0,73.8" fill="#15552F"/>
<polygon points="111.0,66.7 112.4,72.6 111.8,72.6 113.5,78.4 112.5,78.4 114.6,84.3 113.1,84.3 115.5,90.1 113.7,90.1 116.5,96.0 105.5,96.0 108.3,90.1 106.5,90.1 108.9,84.3 107.4,84.3 109.5,78.4 108.5,78.4 110.2,72.6 109.6,72.6" fill="#15552F"/>
<polygon points="120.4,74.0 121.7,79.0 121.2,79.0 122.7,84.0 121.8,84.0 123.6,89.0 122.3,89.0 124.5,94.0 122.9,94.0 125.4,99.0 115.4,99.0 117.9,94.0 116.3,94.0 118.5,89.0 117.2,89.0 119.0,84.0 118.1,84.0 119.6,79.0 119.1,79.0" fill="#15552F"/>
<polygon points="72.0,103.0 74.0,101.6 88.0,95.6 98.5,91.0 105.8,94.2 107.9,96.3 118.0,98.8 126.5,101.2 126.5,104.0 72.0,104.0" fill="#1B3D82"/>
<polyline points="74.0,100.7 88.0,94.7 98.5,90.1" fill="none" stroke="#fff" stroke-width="0.8"/>
</g>
</g>
</svg>
</body></html>
